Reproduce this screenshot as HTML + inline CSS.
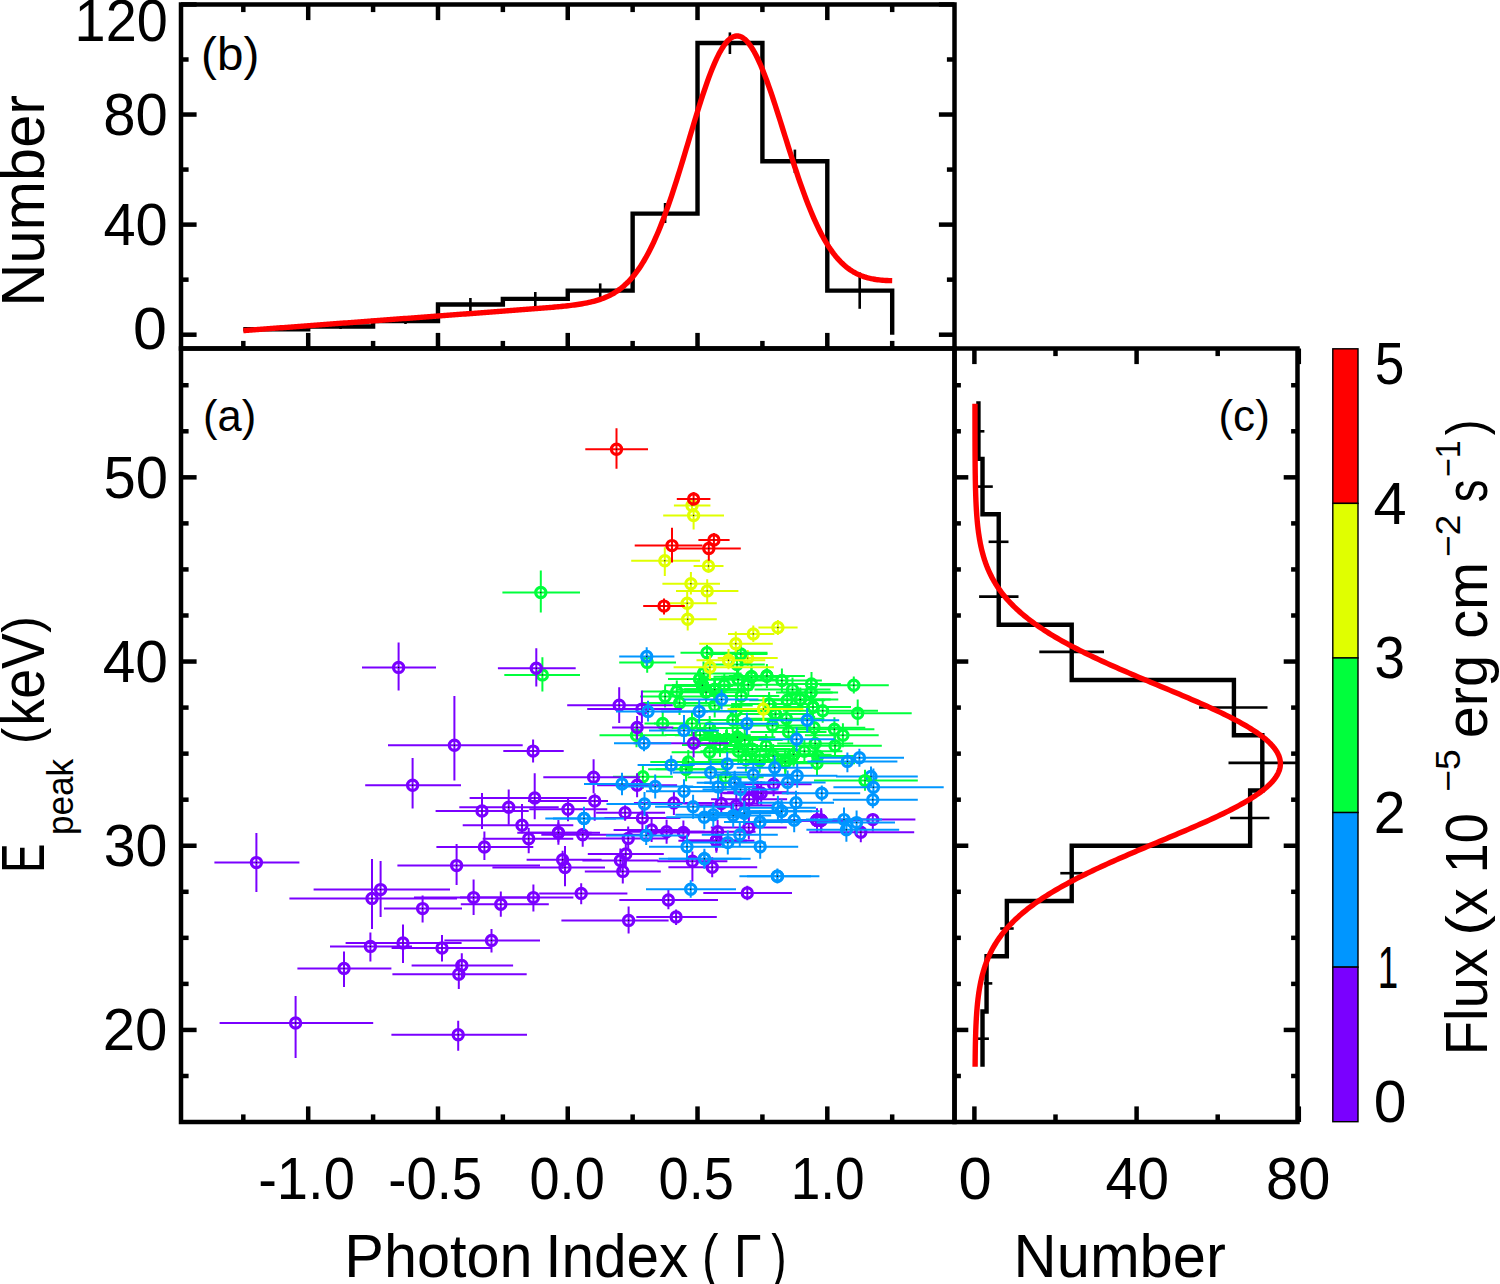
<!DOCTYPE html>
<html><head><meta charset="utf-8"><style>
html,body{margin:0;padding:0;background:#fff;overflow:hidden;}
svg{display:block;}
</style></head><body>
<svg width="1500" height="1284" viewBox="0 0 1500 1284">
<rect width="1500" height="1284" fill="#fff"/>
<path d="M525.5 832.7H591.7M558.4 822.5V842.3" stroke="#7a00ff" stroke-width="2"/>
<circle cx="558.4" cy="832.7" r="5.1" fill="none" stroke="#7a00ff" stroke-width="3.2"/>
<circle cx="558.4" cy="832.7" r="0.7" fill="#222"/>
<path d="M553 818.4H616M584 809V827.7" stroke="#0096ff" stroke-width="2"/>
<circle cx="584" cy="818.4" r="5.1" fill="none" stroke="#0096ff" stroke-width="3.2"/>
<circle cx="584" cy="818.4" r="0.7" fill="#222"/>
<path d="M655.7 769.3H716.5M686.1 759.7V778.9" stroke="#00ff3c" stroke-width="2"/>
<circle cx="686.1" cy="769.3" r="5.1" fill="none" stroke="#00ff3c" stroke-width="3.2"/>
<circle cx="686.1" cy="769.3" r="0.7" fill="#222"/>
<path d="M721.1 676.8H781.9M751.5 667.2V686.4" stroke="#00ff3c" stroke-width="2"/>
<circle cx="751.5" cy="676.8" r="5.1" fill="none" stroke="#00ff3c" stroke-width="3.2"/>
<circle cx="751.5" cy="676.8" r="0.7" fill="#222"/>
<path d="M674.3 678.9H731.7M699.7 669.3V688.5" stroke="#00ff3c" stroke-width="2"/>
<circle cx="699.7" cy="678.9" r="5.1" fill="none" stroke="#00ff3c" stroke-width="3.2"/>
<circle cx="699.7" cy="678.9" r="0.7" fill="#222"/>
<path d="M707.7 679.5H768.5M738.1 669.9V689.1" stroke="#00ff3c" stroke-width="2"/>
<circle cx="738.1" cy="679.5" r="5.1" fill="none" stroke="#00ff3c" stroke-width="3.2"/>
<circle cx="738.1" cy="679.5" r="0.7" fill="#222"/>
<path d="M672 685.3H732.8M702.4 675.7V694.9" stroke="#00ff3c" stroke-width="2"/>
<circle cx="702.4" cy="685.3" r="5.1" fill="none" stroke="#00ff3c" stroke-width="3.2"/>
<circle cx="702.4" cy="685.3" r="0.7" fill="#222"/>
<path d="M672 685.3H732.8M702.4 675.7V694.9" stroke="#00ff3c" stroke-width="2"/>
<circle cx="702.4" cy="685.3" r="5.1" fill="none" stroke="#00ff3c" stroke-width="3.2"/>
<circle cx="702.4" cy="685.3" r="0.7" fill="#222"/>
<path d="M672 685.3H732.8M702.4 675.7V694.9" stroke="#00ff3c" stroke-width="2"/>
<circle cx="702.4" cy="685.3" r="5.1" fill="none" stroke="#00ff3c" stroke-width="3.2"/>
<circle cx="702.4" cy="685.3" r="0.7" fill="#222"/>
<path d="M672 685.3H732.8M702.4 675.7V694.9" stroke="#00ff3c" stroke-width="2"/>
<circle cx="702.4" cy="685.3" r="5.1" fill="none" stroke="#00ff3c" stroke-width="3.2"/>
<circle cx="702.4" cy="685.3" r="0.7" fill="#222"/>
<path d="M684.3 689.6H745.1M714.7 680V699.2" stroke="#00ff3c" stroke-width="2"/>
<circle cx="714.7" cy="689.6" r="5.1" fill="none" stroke="#00ff3c" stroke-width="3.2"/>
<circle cx="714.7" cy="689.6" r="0.7" fill="#222"/>
<path d="M684.3 689.6H745.1M714.7 680V699.2" stroke="#00ff3c" stroke-width="2"/>
<circle cx="714.7" cy="689.6" r="5.1" fill="none" stroke="#00ff3c" stroke-width="3.2"/>
<circle cx="714.7" cy="689.6" r="0.7" fill="#222"/>
<path d="M672 685.3H732.8M702.4 675.7V694.9" stroke="#00ff3c" stroke-width="2"/>
<circle cx="702.4" cy="685.3" r="5.1" fill="none" stroke="#00ff3c" stroke-width="3.2"/>
<circle cx="702.4" cy="685.3" r="0.7" fill="#222"/>
<path d="M684.3 689.6H745.1M714.7 680V699.2" stroke="#00ff3c" stroke-width="2"/>
<circle cx="714.7" cy="689.6" r="5.1" fill="none" stroke="#00ff3c" stroke-width="3.2"/>
<circle cx="714.7" cy="689.6" r="0.7" fill="#222"/>
<path d="M672 685.3H732.8M702.4 675.7V694.9" stroke="#00ff3c" stroke-width="2"/>
<circle cx="702.4" cy="685.3" r="5.1" fill="none" stroke="#00ff3c" stroke-width="3.2"/>
<circle cx="702.4" cy="685.3" r="0.7" fill="#222"/>
<path d="M672 685.3H732.8M702.4 675.7V694.9" stroke="#00ff3c" stroke-width="2"/>
<circle cx="702.4" cy="685.3" r="5.1" fill="none" stroke="#00ff3c" stroke-width="3.2"/>
<circle cx="702.4" cy="685.3" r="0.7" fill="#222"/>
<path d="M672 685.3H732.8M702.4 675.7V694.9" stroke="#00ff3c" stroke-width="2"/>
<circle cx="702.4" cy="685.3" r="5.1" fill="none" stroke="#00ff3c" stroke-width="3.2"/>
<circle cx="702.4" cy="685.3" r="0.7" fill="#222"/>
<path d="M672 685.3H732.8M702.4 675.7V694.9" stroke="#00ff3c" stroke-width="2"/>
<circle cx="702.4" cy="685.3" r="5.1" fill="none" stroke="#00ff3c" stroke-width="3.2"/>
<circle cx="702.4" cy="685.3" r="0.7" fill="#222"/>
<path d="M706.9 737.3H767.7M737.3 727.7V746.9" stroke="#00ff3c" stroke-width="2"/>
<circle cx="737.3" cy="737.3" r="5.1" fill="none" stroke="#00ff3c" stroke-width="3.2"/>
<circle cx="737.3" cy="737.3" r="0.7" fill="#222"/>
<path d="M706.9 737.3H767.7M737.3 727.7V746.9" stroke="#00ff3c" stroke-width="2"/>
<circle cx="737.3" cy="737.3" r="5.1" fill="none" stroke="#00ff3c" stroke-width="3.2"/>
<circle cx="737.3" cy="737.3" r="0.7" fill="#222"/>
<path d="M696.3 739.5H757.1M726.7 729.9V749.1" stroke="#00ff3c" stroke-width="2"/>
<circle cx="726.7" cy="739.5" r="5.1" fill="none" stroke="#00ff3c" stroke-width="3.2"/>
<circle cx="726.7" cy="739.5" r="0.7" fill="#222"/>
<path d="M706.9 737.3H767.7M737.3 727.7V746.9" stroke="#00ff3c" stroke-width="2"/>
<circle cx="737.3" cy="737.3" r="5.1" fill="none" stroke="#00ff3c" stroke-width="3.2"/>
<circle cx="737.3" cy="737.3" r="0.7" fill="#222"/>
<path d="M696.3 739.5H757.1M726.7 729.9V749.1" stroke="#00ff3c" stroke-width="2"/>
<circle cx="726.7" cy="739.5" r="5.1" fill="none" stroke="#00ff3c" stroke-width="3.2"/>
<circle cx="726.7" cy="739.5" r="0.7" fill="#222"/>
<path d="M696.3 739.5H757.1M726.7 729.9V749.1" stroke="#00ff3c" stroke-width="2"/>
<circle cx="726.7" cy="739.5" r="5.1" fill="none" stroke="#00ff3c" stroke-width="3.2"/>
<circle cx="726.7" cy="739.5" r="0.7" fill="#222"/>
<path d="M696.3 739.5H757.1M726.7 729.9V749.1" stroke="#00ff3c" stroke-width="2"/>
<circle cx="726.7" cy="739.5" r="5.1" fill="none" stroke="#00ff3c" stroke-width="3.2"/>
<circle cx="726.7" cy="739.5" r="0.7" fill="#222"/>
<path d="M704.3 782.7H765.1M734.7 773.1V792.3" stroke="#0096ff" stroke-width="2"/>
<circle cx="734.7" cy="782.7" r="5.1" fill="none" stroke="#0096ff" stroke-width="3.2"/>
<circle cx="734.7" cy="782.7" r="0.7" fill="#222"/>
<path d="M704.3 782.7H765.1M734.7 773.1V792.3" stroke="#0096ff" stroke-width="2"/>
<circle cx="734.7" cy="782.7" r="5.1" fill="none" stroke="#0096ff" stroke-width="3.2"/>
<circle cx="734.7" cy="782.7" r="0.7" fill="#222"/>
<path d="M706.9 737.3H767.7M737.3 727.7V746.9" stroke="#00ff3c" stroke-width="2"/>
<circle cx="737.3" cy="737.3" r="5.1" fill="none" stroke="#00ff3c" stroke-width="3.2"/>
<circle cx="737.3" cy="737.3" r="0.7" fill="#222"/>
<path d="M696.3 739.5H757.1M726.7 729.9V749.1" stroke="#00ff3c" stroke-width="2"/>
<circle cx="726.7" cy="739.5" r="5.1" fill="none" stroke="#00ff3c" stroke-width="3.2"/>
<circle cx="726.7" cy="739.5" r="0.7" fill="#222"/>
<path d="M696.3 739.5H757.1M726.7 729.9V749.1" stroke="#00ff3c" stroke-width="2"/>
<circle cx="726.7" cy="739.5" r="5.1" fill="none" stroke="#00ff3c" stroke-width="3.2"/>
<circle cx="726.7" cy="739.5" r="0.7" fill="#222"/>
<path d="M696.3 739.5H757.1M726.7 729.9V749.1" stroke="#00ff3c" stroke-width="2"/>
<circle cx="726.7" cy="739.5" r="5.1" fill="none" stroke="#00ff3c" stroke-width="3.2"/>
<circle cx="726.7" cy="739.5" r="0.7" fill="#222"/>
<path d="M696.3 739.5H757.1M726.7 729.9V749.1" stroke="#00ff3c" stroke-width="2"/>
<circle cx="726.7" cy="739.5" r="5.1" fill="none" stroke="#00ff3c" stroke-width="3.2"/>
<circle cx="726.7" cy="739.5" r="0.7" fill="#222"/>
<path d="M727.2 792.8H788M757.6 783.2V802.4" stroke="#7a00ff" stroke-width="2"/>
<circle cx="757.6" cy="792.8" r="5.1" fill="none" stroke="#7a00ff" stroke-width="3.2"/>
<circle cx="757.6" cy="792.8" r="0.7" fill="#222"/>
<path d="M727.2 792.8H788M757.6 783.2V802.4" stroke="#7a00ff" stroke-width="2"/>
<circle cx="757.6" cy="792.8" r="5.1" fill="none" stroke="#7a00ff" stroke-width="3.2"/>
<circle cx="757.6" cy="792.8" r="0.7" fill="#222"/>
<path d="M727.2 792.8H788M757.6 783.2V802.4" stroke="#7a00ff" stroke-width="2"/>
<circle cx="757.6" cy="792.8" r="5.1" fill="none" stroke="#7a00ff" stroke-width="3.2"/>
<circle cx="757.6" cy="792.8" r="0.7" fill="#222"/>
<path d="M727.2 792.8H788M757.6 783.2V802.4" stroke="#7a00ff" stroke-width="2"/>
<circle cx="757.6" cy="792.8" r="5.1" fill="none" stroke="#7a00ff" stroke-width="3.2"/>
<circle cx="757.6" cy="792.8" r="0.7" fill="#222"/>
<path d="M713.9 813.1H774.7M744.3 803.5V822.7" stroke="#0096ff" stroke-width="2"/>
<circle cx="744.3" cy="813.1" r="5.1" fill="none" stroke="#0096ff" stroke-width="3.2"/>
<circle cx="744.3" cy="813.1" r="0.7" fill="#222"/>
<path d="M713.9 813.1H774.7M744.3 803.5V822.7" stroke="#0096ff" stroke-width="2"/>
<circle cx="744.3" cy="813.1" r="5.1" fill="none" stroke="#0096ff" stroke-width="3.2"/>
<circle cx="744.3" cy="813.1" r="0.7" fill="#222"/>
<path d="M727.2 792.8H788M757.6 783.2V802.4" stroke="#7a00ff" stroke-width="2"/>
<circle cx="757.6" cy="792.8" r="5.1" fill="none" stroke="#7a00ff" stroke-width="3.2"/>
<circle cx="757.6" cy="792.8" r="0.7" fill="#222"/>
<path d="M686 840.8H746.8M716.4 831.2V850.4" stroke="#7a00ff" stroke-width="2"/>
<circle cx="716.4" cy="840.8" r="5.1" fill="none" stroke="#7a00ff" stroke-width="3.2"/>
<circle cx="716.4" cy="840.8" r="0.7" fill="#222"/>
<path d="M686 840.8H746.8M716.4 831.2V850.4" stroke="#7a00ff" stroke-width="2"/>
<circle cx="716.4" cy="840.8" r="5.1" fill="none" stroke="#7a00ff" stroke-width="3.2"/>
<circle cx="716.4" cy="840.8" r="0.7" fill="#222"/>
<path d="M686 840.8H746.8M716.4 831.2V850.4" stroke="#7a00ff" stroke-width="2"/>
<circle cx="716.4" cy="840.8" r="5.1" fill="none" stroke="#7a00ff" stroke-width="3.2"/>
<circle cx="716.4" cy="840.8" r="0.7" fill="#222"/>
<path d="M667.9 858.8H741.4M704.4 850.8V866.8" stroke="#0096ff" stroke-width="2"/>
<circle cx="704.4" cy="858.8" r="5.1" fill="none" stroke="#0096ff" stroke-width="3.2"/>
<circle cx="704.4" cy="858.8" r="0.7" fill="#222"/>
<path d="M736.5 676H797.3M766.9 666.4V685.6" stroke="#00ff3c" stroke-width="2"/>
<circle cx="766.9" cy="676" r="5.1" fill="none" stroke="#00ff3c" stroke-width="3.2"/>
<circle cx="766.9" cy="676" r="0.7" fill="#222"/>
<path d="M736.5 676H797.3M766.9 666.4V685.6" stroke="#00ff3c" stroke-width="2"/>
<circle cx="766.9" cy="676" r="5.1" fill="none" stroke="#00ff3c" stroke-width="3.2"/>
<circle cx="766.9" cy="676" r="0.7" fill="#222"/>
<path d="M782.6 707H843.4M813 697.4V716.6" stroke="#00ff3c" stroke-width="2"/>
<circle cx="813" cy="707" r="5.1" fill="none" stroke="#00ff3c" stroke-width="3.2"/>
<circle cx="813" cy="707" r="0.7" fill="#222"/>
<path d="M783 692.5H832.7M811 682.9V702.1" stroke="#00ff3c" stroke-width="2"/>
<circle cx="811" cy="692.5" r="5.1" fill="none" stroke="#00ff3c" stroke-width="3.2"/>
<circle cx="811" cy="692.5" r="0.7" fill="#222"/>
<path d="M738.7 704H799.5M769.1 694.4V713.6" stroke="#00ff3c" stroke-width="2"/>
<circle cx="769.1" cy="704" r="5.1" fill="none" stroke="#00ff3c" stroke-width="3.2"/>
<circle cx="769.1" cy="704" r="0.7" fill="#222"/>
<path d="M769.9 699.5H830.7M800.3 689.9V709.1" stroke="#00ff3c" stroke-width="2"/>
<circle cx="800.3" cy="699.5" r="5.1" fill="none" stroke="#00ff3c" stroke-width="3.2"/>
<circle cx="800.3" cy="699.5" r="0.7" fill="#222"/>
<path d="M782.6 707H843.4M813 697.4V716.6" stroke="#00ff3c" stroke-width="2"/>
<circle cx="813" cy="707" r="5.1" fill="none" stroke="#00ff3c" stroke-width="3.2"/>
<circle cx="813" cy="707" r="0.7" fill="#222"/>
<path d="M745.1 714.1H805.9M775.5 704.5V723.7" stroke="#00ff3c" stroke-width="2"/>
<circle cx="775.5" cy="714.1" r="5.1" fill="none" stroke="#00ff3c" stroke-width="3.2"/>
<circle cx="775.5" cy="714.1" r="0.7" fill="#222"/>
<path d="M763.2 754.8H824M793.6 745.2V764.4" stroke="#00ff3c" stroke-width="2"/>
<circle cx="793.6" cy="754.8" r="5.1" fill="none" stroke="#00ff3c" stroke-width="3.2"/>
<circle cx="793.6" cy="754.8" r="0.7" fill="#222"/>
<path d="M754.8 762H815.6M785.2 752.4V771.6" stroke="#00ff3c" stroke-width="2"/>
<circle cx="785.2" cy="762" r="5.1" fill="none" stroke="#00ff3c" stroke-width="3.2"/>
<circle cx="785.2" cy="762" r="0.7" fill="#222"/>
<path d="M763.2 754.8H824M793.6 745.2V764.4" stroke="#00ff3c" stroke-width="2"/>
<circle cx="793.6" cy="754.8" r="5.1" fill="none" stroke="#00ff3c" stroke-width="3.2"/>
<circle cx="793.6" cy="754.8" r="0.7" fill="#222"/>
<path d="M754.8 762H815.6M785.2 752.4V771.6" stroke="#00ff3c" stroke-width="2"/>
<circle cx="785.2" cy="762" r="5.1" fill="none" stroke="#00ff3c" stroke-width="3.2"/>
<circle cx="785.2" cy="762" r="0.7" fill="#222"/>
<path d="M754.8 762H815.6M785.2 752.4V771.6" stroke="#00ff3c" stroke-width="2"/>
<circle cx="785.2" cy="762" r="5.1" fill="none" stroke="#00ff3c" stroke-width="3.2"/>
<circle cx="785.2" cy="762" r="0.7" fill="#222"/>
<path d="M763.2 754.8H824M793.6 745.2V764.4" stroke="#00ff3c" stroke-width="2"/>
<circle cx="793.6" cy="754.8" r="5.1" fill="none" stroke="#00ff3c" stroke-width="3.2"/>
<circle cx="793.6" cy="754.8" r="0.7" fill="#222"/>
<path d="M754.8 762H815.6M785.2 752.4V771.6" stroke="#00ff3c" stroke-width="2"/>
<circle cx="785.2" cy="762" r="5.1" fill="none" stroke="#00ff3c" stroke-width="3.2"/>
<circle cx="785.2" cy="762" r="0.7" fill="#222"/>
<path d="M763.2 754.8H824M793.6 745.2V764.4" stroke="#00ff3c" stroke-width="2"/>
<circle cx="793.6" cy="754.8" r="5.1" fill="none" stroke="#00ff3c" stroke-width="3.2"/>
<circle cx="793.6" cy="754.8" r="0.7" fill="#222"/>
<path d="M785 820.2H849M817 810.6V829.8" stroke="#7a00ff" stroke-width="2"/>
<circle cx="817" cy="820.2" r="5.1" fill="none" stroke="#7a00ff" stroke-width="3.2"/>
<circle cx="817" cy="820.2" r="0.7" fill="#222"/>
<path d="M785 820.2H849M817 810.6V829.8" stroke="#7a00ff" stroke-width="2"/>
<circle cx="817" cy="820.2" r="5.1" fill="none" stroke="#7a00ff" stroke-width="3.2"/>
<circle cx="817" cy="820.2" r="0.7" fill="#222"/>
<path d="M785 820.2H849M817 810.6V829.8" stroke="#7a00ff" stroke-width="2"/>
<circle cx="817" cy="820.2" r="5.1" fill="none" stroke="#7a00ff" stroke-width="3.2"/>
<circle cx="817" cy="820.2" r="0.7" fill="#222"/>
<path d="M789.2 820.2H853.2M821.2 810.6V829.8" stroke="#7a00ff" stroke-width="2"/>
<circle cx="821.2" cy="820.2" r="5.1" fill="none" stroke="#7a00ff" stroke-width="3.2"/>
<circle cx="821.2" cy="820.2" r="0.7" fill="#222"/>
<path d="M785 820.2H849M817 810.6V829.8" stroke="#7a00ff" stroke-width="2"/>
<circle cx="817" cy="820.2" r="5.1" fill="none" stroke="#7a00ff" stroke-width="3.2"/>
<circle cx="817" cy="820.2" r="0.7" fill="#222"/>
<path d="M751.2 811.2H812M781.6 801.6V820.8" stroke="#0096ff" stroke-width="2"/>
<circle cx="781.6" cy="811.2" r="5.1" fill="none" stroke="#0096ff" stroke-width="3.2"/>
<circle cx="781.6" cy="811.2" r="0.7" fill="#222"/>
<path d="M789.2 820.2H853.2M821.2 810.6V829.8" stroke="#7a00ff" stroke-width="2"/>
<circle cx="821.2" cy="820.2" r="5.1" fill="none" stroke="#7a00ff" stroke-width="3.2"/>
<circle cx="821.2" cy="820.2" r="0.7" fill="#222"/>
<path d="M747 876.2H811M777.4 870.1V882.1" stroke="#0096ff" stroke-width="2"/>
<circle cx="777.4" cy="876.2" r="5.1" fill="none" stroke="#0096ff" stroke-width="3.2"/>
<circle cx="777.4" cy="876.2" r="0.7" fill="#222"/>
<path d="M717.7 658.1H777.7M747.7 650.1V666.1" stroke="#e0ff00" stroke-width="2"/>
<circle cx="747.7" cy="658.1" r="5.1" fill="none" stroke="#e0ff00" stroke-width="3.2"/>
<circle cx="747.7" cy="658.1" r="0.7" fill="#222"/>
<path d="M836 776.4H917.8M871 766.4V786.4" stroke="#0096ff" stroke-width="2"/>
<circle cx="871" cy="776.4" r="5.1" fill="none" stroke="#0096ff" stroke-width="3.2"/>
<circle cx="871" cy="776.4" r="0.7" fill="#222"/>
<path d="M502.4 592.5H580M540.8 570.4V612.5" stroke="#00ff3c" stroke-width="2"/>
<circle cx="540.8" cy="592.5" r="5.1" fill="none" stroke="#00ff3c" stroke-width="3.2"/>
<circle cx="540.8" cy="592.5" r="0.7" fill="#222"/>
<path d="M504.3 674.9H580M542.4 657.3V691.5" stroke="#00ff3c" stroke-width="2"/>
<circle cx="542.4" cy="674.9" r="5.1" fill="none" stroke="#00ff3c" stroke-width="3.2"/>
<circle cx="542.4" cy="674.9" r="0.7" fill="#222"/>
<path d="M619.2 662.4H676M647.2 654.4V672.8" stroke="#00ff3c" stroke-width="2"/>
<circle cx="647.2" cy="662.4" r="5.1" fill="none" stroke="#00ff3c" stroke-width="3.2"/>
<circle cx="647.2" cy="662.4" r="0.7" fill="#222"/>
<path d="M680.5 652.8H767.5M707 644.8V660.8" stroke="#00ff3c" stroke-width="2"/>
<circle cx="707" cy="652.8" r="5.1" fill="none" stroke="#00ff3c" stroke-width="3.2"/>
<circle cx="707" cy="652.8" r="0.7" fill="#222"/>
<path d="M705.8 653.9H767.5M740.8 641.9V665.9" stroke="#00ff3c" stroke-width="2"/>
<circle cx="740.8" cy="653.9" r="5.1" fill="none" stroke="#00ff3c" stroke-width="3.2"/>
<circle cx="740.8" cy="653.9" r="0.7" fill="#222"/>
<path d="M703 664.5H764.8M737 656.5V673.5" stroke="#00ff3c" stroke-width="2"/>
<circle cx="737" cy="664.5" r="5.1" fill="none" stroke="#00ff3c" stroke-width="3.2"/>
<circle cx="737" cy="664.5" r="0.7" fill="#222"/>
<path d="M668 678.9H739.7M699.7 666.9V690.9" stroke="#00ff3c" stroke-width="2"/>
<circle cx="699.7" cy="678.9" r="5.1" fill="none" stroke="#00ff3c" stroke-width="3.2"/>
<circle cx="699.7" cy="678.9" r="0.7" fill="#222"/>
<path d="M665.5 673.6H741.5M703.5 661.6V685.6" stroke="#00ff3c" stroke-width="2"/>
<circle cx="703.5" cy="673.6" r="5.1" fill="none" stroke="#00ff3c" stroke-width="3.2"/>
<circle cx="703.5" cy="673.6" r="0.7" fill="#222"/>
<path d="M713.5 676.8H789.5M751.5 664.8V688.8" stroke="#00ff3c" stroke-width="2"/>
<circle cx="751.5" cy="676.8" r="5.1" fill="none" stroke="#00ff3c" stroke-width="3.2"/>
<circle cx="751.5" cy="676.8" r="0.7" fill="#222"/>
<path d="M728.9 676H804.9M766.9 664V688" stroke="#00ff3c" stroke-width="2"/>
<circle cx="766.9" cy="676" r="5.1" fill="none" stroke="#00ff3c" stroke-width="3.2"/>
<circle cx="766.9" cy="676" r="0.7" fill="#222"/>
<path d="M741.9 680.5H821.9M781.9 668.5V692.5" stroke="#00ff3c" stroke-width="2"/>
<circle cx="781.9" cy="680.5" r="5.1" fill="none" stroke="#00ff3c" stroke-width="3.2"/>
<circle cx="781.9" cy="680.5" r="0.7" fill="#222"/>
<path d="M700.1 679.5H776.1M738.1 667.5V691.5" stroke="#00ff3c" stroke-width="2"/>
<circle cx="738.1" cy="679.5" r="5.1" fill="none" stroke="#00ff3c" stroke-width="3.2"/>
<circle cx="738.1" cy="679.5" r="0.7" fill="#222"/>
<path d="M686.3 685.3H762.3M724.3 673.3V697.3" stroke="#00ff3c" stroke-width="2"/>
<circle cx="724.3" cy="685.3" r="5.1" fill="none" stroke="#00ff3c" stroke-width="3.2"/>
<circle cx="724.3" cy="685.3" r="0.7" fill="#222"/>
<path d="M710.3 684.8H786.3M748.3 672.8V696.8" stroke="#00ff3c" stroke-width="2"/>
<circle cx="748.3" cy="684.8" r="5.1" fill="none" stroke="#00ff3c" stroke-width="3.2"/>
<circle cx="748.3" cy="684.8" r="0.7" fill="#222"/>
<path d="M664.4 685.3H740.4M702.4 673.3V697.3" stroke="#00ff3c" stroke-width="2"/>
<circle cx="702.4" cy="685.3" r="5.1" fill="none" stroke="#00ff3c" stroke-width="3.2"/>
<circle cx="702.4" cy="685.3" r="0.7" fill="#222"/>
<path d="M641.8 691.6H716.8M676.8 680.6V702.6" stroke="#00ff3c" stroke-width="2"/>
<circle cx="676.8" cy="691.6" r="5.1" fill="none" stroke="#00ff3c" stroke-width="3.2"/>
<circle cx="676.8" cy="691.6" r="0.7" fill="#222"/>
<path d="M640.1 696.5H705.1M665.1 685.5V707.5" stroke="#00ff3c" stroke-width="2"/>
<circle cx="665.1" cy="696.5" r="5.1" fill="none" stroke="#00ff3c" stroke-width="3.2"/>
<circle cx="665.1" cy="696.5" r="0.7" fill="#222"/>
<path d="M641.5 702.9H714.5M679.5 690.9V714.9" stroke="#00ff3c" stroke-width="2"/>
<circle cx="679.5" cy="702.9" r="5.1" fill="none" stroke="#00ff3c" stroke-width="3.2"/>
<circle cx="679.5" cy="702.9" r="0.7" fill="#222"/>
<path d="M668.1 692.3H744.1M706.1 680.3V704.3" stroke="#00ff3c" stroke-width="2"/>
<circle cx="706.1" cy="692.3" r="5.1" fill="none" stroke="#00ff3c" stroke-width="3.2"/>
<circle cx="706.1" cy="692.3" r="0.7" fill="#222"/>
<path d="M676.7 689.6H752.7M714.7 677.6V701.6" stroke="#00ff3c" stroke-width="2"/>
<circle cx="714.7" cy="689.6" r="5.1" fill="none" stroke="#00ff3c" stroke-width="3.2"/>
<circle cx="714.7" cy="689.6" r="0.7" fill="#222"/>
<path d="M703.3 696H779.3M741.3 684V708" stroke="#00ff3c" stroke-width="2"/>
<circle cx="741.3" cy="696" r="5.1" fill="none" stroke="#00ff3c" stroke-width="3.2"/>
<circle cx="741.3" cy="696" r="0.7" fill="#222"/>
<path d="M676.7 705.6H752.7M714.7 693.6V717.6" stroke="#00ff3c" stroke-width="2"/>
<circle cx="714.7" cy="705.6" r="5.1" fill="none" stroke="#00ff3c" stroke-width="3.2"/>
<circle cx="714.7" cy="705.6" r="0.7" fill="#222"/>
<path d="M754.5 689.6H830.5M792.5 677.6V701.6" stroke="#00ff3c" stroke-width="2"/>
<circle cx="792.5" cy="689.6" r="5.1" fill="none" stroke="#00ff3c" stroke-width="3.2"/>
<circle cx="792.5" cy="689.6" r="0.7" fill="#222"/>
<path d="M731.1 704H807.1M769.1 692V716" stroke="#00ff3c" stroke-width="2"/>
<circle cx="769.1" cy="704" r="5.1" fill="none" stroke="#00ff3c" stroke-width="3.2"/>
<circle cx="769.1" cy="704" r="0.7" fill="#222"/>
<path d="M749.2 700.3H825.2M787.2 688.3V712.3" stroke="#00ff3c" stroke-width="2"/>
<circle cx="787.2" cy="700.3" r="5.1" fill="none" stroke="#00ff3c" stroke-width="3.2"/>
<circle cx="787.2" cy="700.3" r="0.7" fill="#222"/>
<path d="M698 711H774M736 699V723" stroke="#00ff3c" stroke-width="2"/>
<circle cx="736" cy="711" r="5.1" fill="none" stroke="#00ff3c" stroke-width="3.2"/>
<circle cx="736" cy="711" r="0.7" fill="#222"/>
<path d="M737.5 714.1H813.5M775.5 702.1V726.1" stroke="#00ff3c" stroke-width="2"/>
<circle cx="775.5" cy="714.1" r="5.1" fill="none" stroke="#00ff3c" stroke-width="3.2"/>
<circle cx="775.5" cy="714.1" r="0.7" fill="#222"/>
<path d="M819.5 685.3H888.8M853.8 676.5V693.6" stroke="#00ff3c" stroke-width="2"/>
<circle cx="853.8" cy="685.3" r="5.1" fill="none" stroke="#00ff3c" stroke-width="3.2"/>
<circle cx="853.8" cy="685.3" r="0.7" fill="#222"/>
<path d="M827 713.3H911.7M857.7 699.5V725.6" stroke="#00ff3c" stroke-width="2"/>
<circle cx="857.7" cy="713.3" r="5.1" fill="none" stroke="#00ff3c" stroke-width="3.2"/>
<circle cx="857.7" cy="713.3" r="0.7" fill="#222"/>
<path d="M776.5 684H840.8M811.5 672V696" stroke="#00ff3c" stroke-width="2"/>
<circle cx="811.5" cy="684" r="5.1" fill="none" stroke="#00ff3c" stroke-width="3.2"/>
<circle cx="811.5" cy="684" r="0.7" fill="#222"/>
<path d="M776 692.5H838.1M811 680.5V704.5" stroke="#00ff3c" stroke-width="2"/>
<circle cx="811" cy="692.5" r="5.1" fill="none" stroke="#00ff3c" stroke-width="3.2"/>
<circle cx="811" cy="692.5" r="0.7" fill="#222"/>
<path d="M762.3 699.5H838.3M800.3 687.5V711.5" stroke="#00ff3c" stroke-width="2"/>
<circle cx="800.3" cy="699.5" r="5.1" fill="none" stroke="#00ff3c" stroke-width="3.2"/>
<circle cx="800.3" cy="699.5" r="0.7" fill="#222"/>
<path d="M775 707H851M813 695V719" stroke="#00ff3c" stroke-width="2"/>
<circle cx="813" cy="707" r="5.1" fill="none" stroke="#00ff3c" stroke-width="3.2"/>
<circle cx="813" cy="707" r="0.7" fill="#222"/>
<path d="M782.7 710.7H878M822.7 698.7V722.7" stroke="#00ff3c" stroke-width="2"/>
<circle cx="822.7" cy="710.7" r="5.1" fill="none" stroke="#00ff3c" stroke-width="3.2"/>
<circle cx="822.7" cy="710.7" r="0.7" fill="#222"/>
<path d="M748.4 718.7H824.4M786.4 706.7V730.7" stroke="#00ff3c" stroke-width="2"/>
<circle cx="786.4" cy="718.7" r="5.1" fill="none" stroke="#00ff3c" stroke-width="3.2"/>
<circle cx="786.4" cy="718.7" r="0.7" fill="#222"/>
<path d="M750.5 732H826.5M788.5 720V744" stroke="#00ff3c" stroke-width="2"/>
<circle cx="788.5" cy="732" r="5.1" fill="none" stroke="#00ff3c" stroke-width="3.2"/>
<circle cx="788.5" cy="732" r="0.7" fill="#222"/>
<path d="M776.1 727.7H865.3M814.1 715.7V739.7" stroke="#00ff3c" stroke-width="2"/>
<circle cx="814.1" cy="727.7" r="5.1" fill="none" stroke="#00ff3c" stroke-width="3.2"/>
<circle cx="814.1" cy="727.7" r="0.7" fill="#222"/>
<path d="M796.4 729.3H874.4M834.4 717.3V741.3" stroke="#00ff3c" stroke-width="2"/>
<circle cx="834.4" cy="729.3" r="5.1" fill="none" stroke="#00ff3c" stroke-width="3.2"/>
<circle cx="834.4" cy="729.3" r="0.7" fill="#222"/>
<path d="M804.9 735.2H878.7M842.9 723.2V747.2" stroke="#00ff3c" stroke-width="2"/>
<circle cx="842.9" cy="735.2" r="5.1" fill="none" stroke="#00ff3c" stroke-width="3.2"/>
<circle cx="842.9" cy="735.2" r="0.7" fill="#222"/>
<path d="M599.5 735.2H666.5M636.5 723.2V747.2" stroke="#00ff3c" stroke-width="2"/>
<circle cx="636.5" cy="735.2" r="5.1" fill="none" stroke="#00ff3c" stroke-width="3.2"/>
<circle cx="636.5" cy="735.2" r="0.7" fill="#222"/>
<path d="M644.5 723.5H684M662.7 711.5V735.5" stroke="#00ff3c" stroke-width="2"/>
<circle cx="662.7" cy="723.5" r="5.1" fill="none" stroke="#00ff3c" stroke-width="3.2"/>
<circle cx="662.7" cy="723.5" r="0.7" fill="#222"/>
<path d="M654 723.5H730M692 711.5V735.5" stroke="#00ff3c" stroke-width="2"/>
<circle cx="692" cy="723.5" r="5.1" fill="none" stroke="#00ff3c" stroke-width="3.2"/>
<circle cx="692" cy="723.5" r="0.7" fill="#222"/>
<path d="M674.8 735.2H750.8M712.8 723.2V747.2" stroke="#00ff3c" stroke-width="2"/>
<circle cx="712.8" cy="735.2" r="5.1" fill="none" stroke="#00ff3c" stroke-width="3.2"/>
<circle cx="712.8" cy="735.2" r="0.7" fill="#222"/>
<path d="M688.7 739.5H764.7M726.7 727.5V751.5" stroke="#00ff3c" stroke-width="2"/>
<circle cx="726.7" cy="739.5" r="5.1" fill="none" stroke="#00ff3c" stroke-width="3.2"/>
<circle cx="726.7" cy="739.5" r="0.7" fill="#222"/>
<path d="M699.3 737.3H775.3M737.3 725.3V749.3" stroke="#00ff3c" stroke-width="2"/>
<circle cx="737.3" cy="737.3" r="5.1" fill="none" stroke="#00ff3c" stroke-width="3.2"/>
<circle cx="737.3" cy="737.3" r="0.7" fill="#222"/>
<path d="M734.5 725.6H810.5M772.5 713.6V737.6" stroke="#00ff3c" stroke-width="2"/>
<circle cx="772.5" cy="725.6" r="5.1" fill="none" stroke="#00ff3c" stroke-width="3.2"/>
<circle cx="772.5" cy="725.6" r="0.7" fill="#222"/>
<path d="M728.1 745.9H804.1M766.1 733.9V757.9" stroke="#00ff3c" stroke-width="2"/>
<circle cx="766.1" cy="745.9" r="5.1" fill="none" stroke="#00ff3c" stroke-width="3.2"/>
<circle cx="766.1" cy="745.9" r="0.7" fill="#222"/>
<path d="M671.6 752.3H747.6M709.6 740.3V764.3" stroke="#00ff3c" stroke-width="2"/>
<circle cx="709.6" cy="752.3" r="5.1" fill="none" stroke="#00ff3c" stroke-width="3.2"/>
<circle cx="709.6" cy="752.3" r="0.7" fill="#222"/>
<path d="M700.4 751.2H776.4M738.4 739.2V763.2" stroke="#00ff3c" stroke-width="2"/>
<circle cx="738.4" cy="751.2" r="5.1" fill="none" stroke="#00ff3c" stroke-width="3.2"/>
<circle cx="738.4" cy="751.2" r="0.7" fill="#222"/>
<path d="M714.3 749.1H790.3M752.3 737.1V761.1" stroke="#00ff3c" stroke-width="2"/>
<circle cx="752.3" cy="749.1" r="5.1" fill="none" stroke="#00ff3c" stroke-width="3.2"/>
<circle cx="752.3" cy="749.1" r="0.7" fill="#222"/>
<path d="M650.3 761.9H726.3M688.3 749.9V773.9" stroke="#00ff3c" stroke-width="2"/>
<circle cx="688.3" cy="761.9" r="5.1" fill="none" stroke="#00ff3c" stroke-width="3.2"/>
<circle cx="688.3" cy="761.9" r="0.7" fill="#222"/>
<path d="M648.1 769.3H724.1M686.1 757.3V781.3" stroke="#00ff3c" stroke-width="2"/>
<circle cx="686.1" cy="769.3" r="5.1" fill="none" stroke="#00ff3c" stroke-width="3.2"/>
<circle cx="686.1" cy="769.3" r="0.7" fill="#222"/>
<path d="M707.9 759.7H783.9M745.9 747.7V771.7" stroke="#00ff3c" stroke-width="2"/>
<circle cx="745.9" cy="759.7" r="5.1" fill="none" stroke="#00ff3c" stroke-width="3.2"/>
<circle cx="745.9" cy="759.7" r="0.7" fill="#222"/>
<path d="M721.7 760.8H797.7M759.7 748.8V772.8" stroke="#00ff3c" stroke-width="2"/>
<circle cx="759.7" cy="760.8" r="5.1" fill="none" stroke="#00ff3c" stroke-width="3.2"/>
<circle cx="759.7" cy="760.8" r="0.7" fill="#222"/>
<path d="M612.9 776.8H672.9M642.9 764.8V788.8" stroke="#00ff3c" stroke-width="2"/>
<circle cx="642.9" cy="776.8" r="5.1" fill="none" stroke="#00ff3c" stroke-width="3.2"/>
<circle cx="642.9" cy="776.8" r="0.7" fill="#222"/>
<path d="M687.6 777.3H763.6M725.6 765.3V789.3" stroke="#00ff3c" stroke-width="2"/>
<circle cx="725.6" cy="777.3" r="5.1" fill="none" stroke="#00ff3c" stroke-width="3.2"/>
<circle cx="725.6" cy="777.3" r="0.7" fill="#222"/>
<path d="M777.2 743.4H853.2M815.2 731.4V755.4" stroke="#00ff3c" stroke-width="2"/>
<circle cx="815.2" cy="743.4" r="5.1" fill="none" stroke="#00ff3c" stroke-width="3.2"/>
<circle cx="815.2" cy="743.4" r="0.7" fill="#222"/>
<path d="M766.4 751.2H842.4M804.4 739.2V763.2" stroke="#00ff3c" stroke-width="2"/>
<circle cx="804.4" cy="751.2" r="5.1" fill="none" stroke="#00ff3c" stroke-width="3.2"/>
<circle cx="804.4" cy="751.2" r="0.7" fill="#222"/>
<path d="M755.6 754.8H831.6M793.6 742.8V766.8" stroke="#00ff3c" stroke-width="2"/>
<circle cx="793.6" cy="754.8" r="5.1" fill="none" stroke="#00ff3c" stroke-width="3.2"/>
<circle cx="793.6" cy="754.8" r="0.7" fill="#222"/>
<path d="M797 745.8H881.8M835 733.8V757.8" stroke="#00ff3c" stroke-width="2"/>
<circle cx="835" cy="745.8" r="5.1" fill="none" stroke="#00ff3c" stroke-width="3.2"/>
<circle cx="835" cy="745.8" r="0.7" fill="#222"/>
<path d="M735.2 756H811.2M773.2 744V768" stroke="#00ff3c" stroke-width="2"/>
<circle cx="773.2" cy="756" r="5.1" fill="none" stroke="#00ff3c" stroke-width="3.2"/>
<circle cx="773.2" cy="756" r="0.7" fill="#222"/>
<path d="M747.2 762H823.2M785.2 750V774" stroke="#00ff3c" stroke-width="2"/>
<circle cx="785.2" cy="762" r="5.1" fill="none" stroke="#00ff3c" stroke-width="3.2"/>
<circle cx="785.2" cy="762" r="0.7" fill="#222"/>
<path d="M779.6 756H855.6M817.6 744V768" stroke="#00ff3c" stroke-width="2"/>
<circle cx="817.6" cy="756" r="5.1" fill="none" stroke="#00ff3c" stroke-width="3.2"/>
<circle cx="817.6" cy="756" r="0.7" fill="#222"/>
<path d="M779 763.2H855M817 751.2V775.2" stroke="#00ff3c" stroke-width="2"/>
<circle cx="817" cy="763.2" r="5.1" fill="none" stroke="#00ff3c" stroke-width="3.2"/>
<circle cx="817" cy="763.2" r="0.7" fill="#222"/>
<path d="M814 780.6H917.8M865 769.8V790.8" stroke="#00ff3c" stroke-width="2"/>
<circle cx="865" cy="780.6" r="5.1" fill="none" stroke="#00ff3c" stroke-width="3.2"/>
<circle cx="865" cy="780.6" r="0.7" fill="#222"/>
<path d="M671.7 728H747.7M709.7 716V740" stroke="#00ff3c" stroke-width="2"/>
<circle cx="709.7" cy="728" r="5.1" fill="none" stroke="#00ff3c" stroke-width="3.2"/>
<circle cx="709.7" cy="728" r="0.7" fill="#222"/>
<path d="M706.7 740H782.7M744.7 728V752" stroke="#00ff3c" stroke-width="2"/>
<circle cx="744.7" cy="740" r="5.1" fill="none" stroke="#00ff3c" stroke-width="3.2"/>
<circle cx="744.7" cy="740" r="0.7" fill="#222"/>
<path d="M694.7 720H770.7M732.7 708V732" stroke="#00ff3c" stroke-width="2"/>
<circle cx="732.7" cy="720" r="5.1" fill="none" stroke="#00ff3c" stroke-width="3.2"/>
<circle cx="732.7" cy="720" r="0.7" fill="#222"/>
<path d="M682 745H758M720 733V757" stroke="#00ff3c" stroke-width="2"/>
<circle cx="720" cy="745" r="5.1" fill="none" stroke="#00ff3c" stroke-width="3.2"/>
<circle cx="720" cy="745" r="0.7" fill="#222"/>
<path d="M665 735H740M700 723V747" stroke="#00ff3c" stroke-width="2"/>
<circle cx="700" cy="735" r="5.1" fill="none" stroke="#00ff3c" stroke-width="3.2"/>
<circle cx="700" cy="735" r="0.7" fill="#222"/>
<path d="M497.9 668.2H575.7M536.3 648.3V686.4" stroke="#7a00ff" stroke-width="2"/>
<circle cx="536.3" cy="668.2" r="5.1" fill="none" stroke="#7a00ff" stroke-width="3.2"/>
<circle cx="536.3" cy="668.2" r="0.7" fill="#222"/>
<path d="M567.2 705.3H672.8M619.2 687.2V723" stroke="#7a00ff" stroke-width="2"/>
<circle cx="619.2" cy="705.3" r="5.1" fill="none" stroke="#7a00ff" stroke-width="3.2"/>
<circle cx="619.2" cy="705.3" r="0.7" fill="#222"/>
<path d="M362 667.4H436M398.6 642.4V690.4" stroke="#7a00ff" stroke-width="2"/>
<circle cx="398.6" cy="667.4" r="5.1" fill="none" stroke="#7a00ff" stroke-width="3.2"/>
<circle cx="398.6" cy="667.4" r="0.7" fill="#222"/>
<path d="M388 745.2H522.7M454.4 696V780.4" stroke="#7a00ff" stroke-width="2"/>
<circle cx="454.4" cy="745.2" r="5.1" fill="none" stroke="#7a00ff" stroke-width="3.2"/>
<circle cx="454.4" cy="745.2" r="0.7" fill="#222"/>
<path d="M365.2 785.2H461M412.6 758V808.6" stroke="#7a00ff" stroke-width="2"/>
<circle cx="412.6" cy="785.2" r="5.1" fill="none" stroke="#7a00ff" stroke-width="3.2"/>
<circle cx="412.6" cy="785.2" r="0.7" fill="#222"/>
<path d="M435.6 811H528.7M482 793V829" stroke="#7a00ff" stroke-width="2"/>
<circle cx="482" cy="811" r="5.1" fill="none" stroke="#7a00ff" stroke-width="3.2"/>
<circle cx="482" cy="811" r="0.7" fill="#222"/>
<path d="M436.4 847H533.3M484.4 831.6V860" stroke="#7a00ff" stroke-width="2"/>
<circle cx="484.4" cy="847" r="5.1" fill="none" stroke="#7a00ff" stroke-width="3.2"/>
<circle cx="484.4" cy="847" r="0.7" fill="#222"/>
<path d="M214.4 862.6H299.4M256.4 833V892" stroke="#7a00ff" stroke-width="2"/>
<circle cx="256.4" cy="862.6" r="5.1" fill="none" stroke="#7a00ff" stroke-width="3.2"/>
<circle cx="256.4" cy="862.6" r="0.7" fill="#222"/>
<path d="M313.6 889.6H450M380.6 861V917" stroke="#7a00ff" stroke-width="2"/>
<circle cx="380.6" cy="889.6" r="5.1" fill="none" stroke="#7a00ff" stroke-width="3.2"/>
<circle cx="380.6" cy="889.6" r="0.7" fill="#222"/>
<path d="M289.4 898.4H457M372 859V929" stroke="#7a00ff" stroke-width="2"/>
<circle cx="372" cy="898.4" r="5.1" fill="none" stroke="#7a00ff" stroke-width="3.2"/>
<circle cx="372" cy="898.4" r="0.7" fill="#222"/>
<path d="M384 908.6H462M422.6 895.6V922.4" stroke="#7a00ff" stroke-width="2"/>
<circle cx="422.6" cy="908.6" r="5.1" fill="none" stroke="#7a00ff" stroke-width="3.2"/>
<circle cx="422.6" cy="908.6" r="0.7" fill="#222"/>
<path d="M397.4 865.6H540M456.6 844V885" stroke="#7a00ff" stroke-width="2"/>
<circle cx="456.6" cy="865.6" r="5.1" fill="none" stroke="#7a00ff" stroke-width="3.2"/>
<circle cx="456.6" cy="865.6" r="0.7" fill="#222"/>
<path d="M330 946.4H412M370.4 932.4V961.6" stroke="#7a00ff" stroke-width="2"/>
<circle cx="370.4" cy="946.4" r="5.1" fill="none" stroke="#7a00ff" stroke-width="3.2"/>
<circle cx="370.4" cy="946.4" r="0.7" fill="#222"/>
<path d="M345.6 943H461.6M403 924.4V963" stroke="#7a00ff" stroke-width="2"/>
<circle cx="403" cy="943" r="5.1" fill="none" stroke="#7a00ff" stroke-width="3.2"/>
<circle cx="403" cy="943" r="0.7" fill="#222"/>
<path d="M391.6 948H491M442 935V961.6" stroke="#7a00ff" stroke-width="2"/>
<circle cx="442" cy="948" r="5.1" fill="none" stroke="#7a00ff" stroke-width="3.2"/>
<circle cx="442" cy="948" r="0.7" fill="#222"/>
<path d="M297.4 968.4H391.4M344 951.6V987" stroke="#7a00ff" stroke-width="2"/>
<circle cx="344" cy="968.4" r="5.1" fill="none" stroke="#7a00ff" stroke-width="3.2"/>
<circle cx="344" cy="968.4" r="0.7" fill="#222"/>
<path d="M219.6 1023H373.2M295.6 996V1058" stroke="#7a00ff" stroke-width="2"/>
<circle cx="295.6" cy="1023" r="5.1" fill="none" stroke="#7a00ff" stroke-width="3.2"/>
<circle cx="295.6" cy="1023" r="0.7" fill="#222"/>
<path d="M503.3 751.1H563.7M533.1 739.6V762.4" stroke="#7a00ff" stroke-width="2"/>
<circle cx="533.1" cy="751.1" r="5.1" fill="none" stroke="#7a00ff" stroke-width="3.2"/>
<circle cx="533.1" cy="751.1" r="0.7" fill="#222"/>
<path d="M543.3 777.3H640M593.6 759.3V793.3" stroke="#7a00ff" stroke-width="2"/>
<circle cx="593.6" cy="777.3" r="5.1" fill="none" stroke="#7a00ff" stroke-width="3.2"/>
<circle cx="593.6" cy="777.3" r="0.7" fill="#222"/>
<path d="M469.6 798H586.7M534.7 773.3V819.3" stroke="#7a00ff" stroke-width="2"/>
<circle cx="534.7" cy="798" r="5.1" fill="none" stroke="#7a00ff" stroke-width="3.2"/>
<circle cx="534.7" cy="798" r="0.7" fill="#222"/>
<path d="M528 801.1H608M594.7 793.3V820.7" stroke="#7a00ff" stroke-width="2"/>
<circle cx="594.7" cy="801.1" r="5.1" fill="none" stroke="#7a00ff" stroke-width="3.2"/>
<circle cx="594.7" cy="801.1" r="0.7" fill="#222"/>
<path d="M459.3 807.3H558.7M508.7 789.6V824.7" stroke="#7a00ff" stroke-width="2"/>
<circle cx="508.7" cy="807.3" r="5.1" fill="none" stroke="#7a00ff" stroke-width="3.2"/>
<circle cx="508.7" cy="807.3" r="0.7" fill="#222"/>
<path d="M529.3 809.3H607.3M568 798V821.3" stroke="#7a00ff" stroke-width="2"/>
<circle cx="568" cy="809.3" r="5.1" fill="none" stroke="#7a00ff" stroke-width="3.2"/>
<circle cx="568" cy="809.3" r="0.7" fill="#222"/>
<path d="M462.7 825.3H573.3M522 804V833.3" stroke="#7a00ff" stroke-width="2"/>
<circle cx="522" cy="825.3" r="5.1" fill="none" stroke="#7a00ff" stroke-width="3.2"/>
<circle cx="522" cy="825.3" r="0.7" fill="#222"/>
<path d="M482.7 838.7H573.3M528.7 828V853.3" stroke="#7a00ff" stroke-width="2"/>
<circle cx="528.7" cy="838.7" r="5.1" fill="none" stroke="#7a00ff" stroke-width="3.2"/>
<circle cx="528.7" cy="838.7" r="0.7" fill="#222"/>
<path d="M517.3 832.7H600M558.4 820V844.7" stroke="#7a00ff" stroke-width="2"/>
<circle cx="558.4" cy="832.7" r="5.1" fill="none" stroke="#7a00ff" stroke-width="3.2"/>
<circle cx="558.4" cy="832.7" r="0.7" fill="#222"/>
<path d="M541.3 834.7H640M582.7 828V846.7" stroke="#7a00ff" stroke-width="2"/>
<circle cx="582.7" cy="834.7" r="5.1" fill="none" stroke="#7a00ff" stroke-width="3.2"/>
<circle cx="582.7" cy="834.7" r="0.7" fill="#222"/>
<path d="M587.2 709.1H681.9M641.9 690.4V723.1" stroke="#7a00ff" stroke-width="2"/>
<circle cx="641.9" cy="709.1" r="5.1" fill="none" stroke="#7a00ff" stroke-width="3.2"/>
<circle cx="641.9" cy="709.1" r="0.7" fill="#222"/>
<path d="M612.1 727.5H673.3M637.1 716V739.5" stroke="#7a00ff" stroke-width="2"/>
<circle cx="637.1" cy="727.5" r="5.1" fill="none" stroke="#7a00ff" stroke-width="3.2"/>
<circle cx="637.1" cy="727.5" r="0.7" fill="#222"/>
<path d="M633.6 743.2H728.6M693.6 732V757.6" stroke="#7a00ff" stroke-width="2"/>
<circle cx="693.6" cy="743.2" r="5.1" fill="none" stroke="#7a00ff" stroke-width="3.2"/>
<circle cx="693.6" cy="743.2" r="0.7" fill="#222"/>
<path d="M597.1 785.3H677.1M637.1 773.3V797.3" stroke="#7a00ff" stroke-width="2"/>
<circle cx="637.1" cy="785.3" r="5.1" fill="none" stroke="#7a00ff" stroke-width="3.2"/>
<circle cx="637.1" cy="785.3" r="0.7" fill="#222"/>
<path d="M719.6 792.8H795.6M757.6 780.8V804.8" stroke="#7a00ff" stroke-width="2"/>
<circle cx="757.6" cy="792.8" r="5.1" fill="none" stroke="#7a00ff" stroke-width="3.2"/>
<circle cx="757.6" cy="792.8" r="0.7" fill="#222"/>
<path d="M735.6 784.3H811.6M773.6 772.3V796.3" stroke="#7a00ff" stroke-width="2"/>
<circle cx="773.6" cy="784.3" r="5.1" fill="none" stroke="#7a00ff" stroke-width="3.2"/>
<circle cx="773.6" cy="784.3" r="0.7" fill="#222"/>
<path d="M633.9 802.9H713.9M673.9 790.9V814.9" stroke="#7a00ff" stroke-width="2"/>
<circle cx="673.9" cy="802.9" r="5.1" fill="none" stroke="#7a00ff" stroke-width="3.2"/>
<circle cx="673.9" cy="802.9" r="0.7" fill="#222"/>
<path d="M596.1 812.7H665.1M625.1 805.3V820.7" stroke="#7a00ff" stroke-width="2"/>
<circle cx="625.1" cy="812.7" r="5.1" fill="none" stroke="#7a00ff" stroke-width="3.2"/>
<circle cx="625.1" cy="812.7" r="0.7" fill="#222"/>
<path d="M604.4 817.9H680.4M642.4 805.9V829.9" stroke="#7a00ff" stroke-width="2"/>
<circle cx="642.4" cy="817.9" r="5.1" fill="none" stroke="#7a00ff" stroke-width="3.2"/>
<circle cx="642.4" cy="817.9" r="0.7" fill="#222"/>
<path d="M683.3 803.5H759.3M721.3 791.5V815.5" stroke="#7a00ff" stroke-width="2"/>
<circle cx="721.3" cy="803.5" r="5.1" fill="none" stroke="#7a00ff" stroke-width="3.2"/>
<circle cx="721.3" cy="803.5" r="0.7" fill="#222"/>
<path d="M698.3 805.6H774.3M736.3 793.6V817.6" stroke="#7a00ff" stroke-width="2"/>
<circle cx="736.3" cy="805.6" r="5.1" fill="none" stroke="#7a00ff" stroke-width="3.2"/>
<circle cx="736.3" cy="805.6" r="0.7" fill="#222"/>
<path d="M711.1 799.2H787.1M749.1 787.2V811.2" stroke="#7a00ff" stroke-width="2"/>
<circle cx="749.1" cy="799.2" r="5.1" fill="none" stroke="#7a00ff" stroke-width="3.2"/>
<circle cx="749.1" cy="799.2" r="0.7" fill="#222"/>
<path d="M723.2 793.2H799.2M761.2 781.2V805.2" stroke="#7a00ff" stroke-width="2"/>
<circle cx="761.2" cy="793.2" r="5.1" fill="none" stroke="#7a00ff" stroke-width="3.2"/>
<circle cx="761.2" cy="793.2" r="0.7" fill="#222"/>
<path d="M777 820.2H857M817 808.2V832.2" stroke="#7a00ff" stroke-width="2"/>
<circle cx="817" cy="820.2" r="5.1" fill="none" stroke="#7a00ff" stroke-width="3.2"/>
<circle cx="817" cy="820.2" r="0.7" fill="#222"/>
<path d="M781.2 820.2H861.2M821.2 808.2V832.2" stroke="#7a00ff" stroke-width="2"/>
<circle cx="821.2" cy="820.2" r="5.1" fill="none" stroke="#7a00ff" stroke-width="3.2"/>
<circle cx="821.2" cy="820.2" r="0.7" fill="#222"/>
<path d="M832.8 819.6H915.4M872.8 813.5V831.6" stroke="#7a00ff" stroke-width="2"/>
<circle cx="872.8" cy="819.6" r="5.1" fill="none" stroke="#7a00ff" stroke-width="3.2"/>
<circle cx="872.8" cy="819.6" r="0.7" fill="#222"/>
<path d="M809.2 832.2H914.2M860.8 822.2V842.2" stroke="#7a00ff" stroke-width="2"/>
<circle cx="860.8" cy="832.2" r="5.1" fill="none" stroke="#7a00ff" stroke-width="3.2"/>
<circle cx="860.8" cy="832.2" r="0.7" fill="#222"/>
<path d="M710.8 827.6H786.8M748.8 815.6V839.6" stroke="#7a00ff" stroke-width="2"/>
<circle cx="748.8" cy="827.6" r="5.1" fill="none" stroke="#7a00ff" stroke-width="3.2"/>
<circle cx="748.8" cy="827.6" r="0.7" fill="#222"/>
<path d="M613.6 830H689.6M651.6 818V842" stroke="#7a00ff" stroke-width="2"/>
<circle cx="651.6" cy="830" r="5.1" fill="none" stroke="#7a00ff" stroke-width="3.2"/>
<circle cx="651.6" cy="830" r="0.7" fill="#222"/>
<path d="M588.2 838.4H668.2M628.2 826.4V850.4" stroke="#7a00ff" stroke-width="2"/>
<circle cx="628.2" cy="838.4" r="5.1" fill="none" stroke="#7a00ff" stroke-width="3.2"/>
<circle cx="628.2" cy="838.4" r="0.7" fill="#222"/>
<path d="M628.6 831.8H704.6M666.6 819.8V843.8" stroke="#7a00ff" stroke-width="2"/>
<circle cx="666.6" cy="831.8" r="5.1" fill="none" stroke="#7a00ff" stroke-width="3.2"/>
<circle cx="666.6" cy="831.8" r="0.7" fill="#222"/>
<path d="M645.4 832.4H721.4M683.4 820.4V844.4" stroke="#7a00ff" stroke-width="2"/>
<circle cx="683.4" cy="832.4" r="5.1" fill="none" stroke="#7a00ff" stroke-width="3.2"/>
<circle cx="683.4" cy="832.4" r="0.7" fill="#222"/>
<path d="M679.6 831.8H755.6M717.6 819.8V843.8" stroke="#7a00ff" stroke-width="2"/>
<circle cx="717.6" cy="831.8" r="5.1" fill="none" stroke="#7a00ff" stroke-width="3.2"/>
<circle cx="717.6" cy="831.8" r="0.7" fill="#222"/>
<path d="M678.4 840.8H754.4M716.4 828.8V852.8" stroke="#7a00ff" stroke-width="2"/>
<circle cx="716.4" cy="840.8" r="5.1" fill="none" stroke="#7a00ff" stroke-width="3.2"/>
<circle cx="716.4" cy="840.8" r="0.7" fill="#222"/>
<path d="M587.8 854H663.8M625.8 842V866" stroke="#7a00ff" stroke-width="2"/>
<circle cx="625.8" cy="854" r="5.1" fill="none" stroke="#7a00ff" stroke-width="3.2"/>
<circle cx="625.8" cy="854" r="0.7" fill="#222"/>
<path d="M582.4 860.6H658.4M620.4 848.6V872.6" stroke="#7a00ff" stroke-width="2"/>
<circle cx="620.4" cy="860.6" r="5.1" fill="none" stroke="#7a00ff" stroke-width="3.2"/>
<circle cx="620.4" cy="860.6" r="0.7" fill="#222"/>
<path d="M584.8 871.4H660.8M622.8 859.4V883.4" stroke="#7a00ff" stroke-width="2"/>
<circle cx="622.8" cy="871.4" r="5.1" fill="none" stroke="#7a00ff" stroke-width="3.2"/>
<circle cx="622.8" cy="871.4" r="0.7" fill="#222"/>
<path d="M657.4 861.2H727.4M692.4 851.6V881.6" stroke="#7a00ff" stroke-width="2"/>
<circle cx="692.4" cy="861.2" r="5.1" fill="none" stroke="#7a00ff" stroke-width="3.2"/>
<circle cx="692.4" cy="861.2" r="0.7" fill="#222"/>
<path d="M668.4 867.2H757.2M712.2 857.2V877.2" stroke="#7a00ff" stroke-width="2"/>
<circle cx="712.2" cy="867.2" r="5.1" fill="none" stroke="#7a00ff" stroke-width="3.2"/>
<circle cx="712.2" cy="867.2" r="0.7" fill="#222"/>
<path d="M703.3 892.9H792M747.3 885.8V900.2" stroke="#7a00ff" stroke-width="2"/>
<circle cx="747.3" cy="892.9" r="5.1" fill="none" stroke="#7a00ff" stroke-width="3.2"/>
<circle cx="747.3" cy="892.9" r="0.7" fill="#222"/>
<path d="M619.3 900H718M668.4 890V909.2" stroke="#7a00ff" stroke-width="2"/>
<circle cx="668.4" cy="900" r="5.1" fill="none" stroke="#7a00ff" stroke-width="3.2"/>
<circle cx="668.4" cy="900" r="0.7" fill="#222"/>
<path d="M636.3 917H716.8M676.1 909.6V925" stroke="#7a00ff" stroke-width="2"/>
<circle cx="676.1" cy="917" r="5.1" fill="none" stroke="#7a00ff" stroke-width="3.2"/>
<circle cx="676.1" cy="917" r="0.7" fill="#222"/>
<path d="M526.6 859.8H601.6M562.6 850.8V868.8" stroke="#7a00ff" stroke-width="2"/>
<circle cx="562.6" cy="859.8" r="5.1" fill="none" stroke="#7a00ff" stroke-width="3.2"/>
<circle cx="562.6" cy="859.8" r="0.7" fill="#222"/>
<path d="M492.4 867.6H605M565 846V886.2" stroke="#7a00ff" stroke-width="2"/>
<circle cx="565" cy="867.6" r="5.1" fill="none" stroke="#7a00ff" stroke-width="3.2"/>
<circle cx="565" cy="867.6" r="0.7" fill="#222"/>
<path d="M460 897.6H573.4M533.4 884.4V911.4" stroke="#7a00ff" stroke-width="2"/>
<circle cx="533.4" cy="897.6" r="5.1" fill="none" stroke="#7a00ff" stroke-width="3.2"/>
<circle cx="533.4" cy="897.6" r="0.7" fill="#222"/>
<path d="M539.2 893.4H627.4M581.2 883.2V904.2" stroke="#7a00ff" stroke-width="2"/>
<circle cx="581.2" cy="893.4" r="5.1" fill="none" stroke="#7a00ff" stroke-width="3.2"/>
<circle cx="581.2" cy="893.4" r="0.7" fill="#222"/>
<path d="M460.8 904.2H548.8M500.8 891.6V916.8" stroke="#7a00ff" stroke-width="2"/>
<circle cx="500.8" cy="904.2" r="5.1" fill="none" stroke="#7a00ff" stroke-width="3.2"/>
<circle cx="500.8" cy="904.2" r="0.7" fill="#222"/>
<path d="M561.4 920.4H668.6M628.6 906.6V933.6" stroke="#7a00ff" stroke-width="2"/>
<circle cx="628.6" cy="920.4" r="5.1" fill="none" stroke="#7a00ff" stroke-width="3.2"/>
<circle cx="628.6" cy="920.4" r="0.7" fill="#222"/>
<path d="M414 897.6H540M473.6 879.4V915" stroke="#7a00ff" stroke-width="2"/>
<circle cx="473.6" cy="897.6" r="5.1" fill="none" stroke="#7a00ff" stroke-width="3.2"/>
<circle cx="473.6" cy="897.6" r="0.7" fill="#222"/>
<path d="M444.4 940.4H540M491.5 929V952.4" stroke="#7a00ff" stroke-width="2"/>
<circle cx="491.5" cy="940.4" r="5.1" fill="none" stroke="#7a00ff" stroke-width="3.2"/>
<circle cx="491.5" cy="940.4" r="0.7" fill="#222"/>
<path d="M411.6 965.5H513.1M461.8 953.3V978" stroke="#7a00ff" stroke-width="2"/>
<circle cx="461.8" cy="965.5" r="5.1" fill="none" stroke="#7a00ff" stroke-width="3.2"/>
<circle cx="461.8" cy="965.5" r="0.7" fill="#222"/>
<path d="M392.4 974.2H526.7M458.8 960V989" stroke="#7a00ff" stroke-width="2"/>
<circle cx="458.8" cy="974.2" r="5.1" fill="none" stroke="#7a00ff" stroke-width="3.2"/>
<circle cx="458.8" cy="974.2" r="0.7" fill="#222"/>
<path d="M391.4 1034.7H527M458.2 1020.7V1050.7" stroke="#7a00ff" stroke-width="2"/>
<circle cx="458.2" cy="1034.7" r="5.1" fill="none" stroke="#7a00ff" stroke-width="3.2"/>
<circle cx="458.2" cy="1034.7" r="0.7" fill="#222"/>
<path d="M619.2 656.5H674.4M646.7 647.2V666" stroke="#0096ff" stroke-width="2"/>
<circle cx="646.7" cy="656.5" r="5.1" fill="none" stroke="#0096ff" stroke-width="3.2"/>
<circle cx="646.7" cy="656.5" r="0.7" fill="#222"/>
<path d="M545.3 818.4H624M584 806.7V830" stroke="#0096ff" stroke-width="2"/>
<circle cx="584" cy="818.4" r="5.1" fill="none" stroke="#0096ff" stroke-width="3.2"/>
<circle cx="584" cy="818.4" r="0.7" fill="#222"/>
<path d="M683.7 699.4H758.4M721.6 689.4V709.4" stroke="#0096ff" stroke-width="2"/>
<circle cx="721.6" cy="699.4" r="5.1" fill="none" stroke="#0096ff" stroke-width="3.2"/>
<circle cx="721.6" cy="699.4" r="0.7" fill="#222"/>
<path d="M616 711.4H708M648 700.8V721.4" stroke="#0096ff" stroke-width="2"/>
<circle cx="648" cy="711.4" r="5.1" fill="none" stroke="#0096ff" stroke-width="3.2"/>
<circle cx="648" cy="711.4" r="0.7" fill="#222"/>
<path d="M661.2 711.5H737.2M699.2 699.5V723.5" stroke="#0096ff" stroke-width="2"/>
<circle cx="699.2" cy="711.5" r="5.1" fill="none" stroke="#0096ff" stroke-width="3.2"/>
<circle cx="699.2" cy="711.5" r="0.7" fill="#222"/>
<path d="M769.2 720.3H839.2M807.2 708.3V732.3" stroke="#0096ff" stroke-width="2"/>
<circle cx="807.2" cy="720.3" r="5.1" fill="none" stroke="#0096ff" stroke-width="3.2"/>
<circle cx="807.2" cy="720.3" r="0.7" fill="#222"/>
<path d="M614 743.2H671.2M644 735.2V751.2" stroke="#0096ff" stroke-width="2"/>
<circle cx="644" cy="743.2" r="5.1" fill="none" stroke="#0096ff" stroke-width="3.2"/>
<circle cx="644" cy="743.2" r="0.7" fill="#222"/>
<path d="M649 730.4H719M684 715V742.7" stroke="#0096ff" stroke-width="2"/>
<circle cx="684" cy="730.4" r="5.1" fill="none" stroke="#0096ff" stroke-width="3.2"/>
<circle cx="684" cy="730.4" r="0.7" fill="#222"/>
<path d="M705 723.7H778M746.9 712.8V734.7" stroke="#0096ff" stroke-width="2"/>
<circle cx="746.9" cy="723.7" r="5.1" fill="none" stroke="#0096ff" stroke-width="3.2"/>
<circle cx="746.9" cy="723.7" r="0.7" fill="#222"/>
<path d="M637.6 765.1H694.7M671.2 755.5V774.7" stroke="#0096ff" stroke-width="2"/>
<circle cx="671.2" cy="765.1" r="5.1" fill="none" stroke="#0096ff" stroke-width="3.2"/>
<circle cx="671.2" cy="765.1" r="0.7" fill="#222"/>
<path d="M689.2 764H765.2M727.2 752V776" stroke="#0096ff" stroke-width="2"/>
<circle cx="727.2" cy="764" r="5.1" fill="none" stroke="#0096ff" stroke-width="3.2"/>
<circle cx="727.2" cy="764" r="0.7" fill="#222"/>
<path d="M672.7 772.5H748.7M710.7 760.5V784.5" stroke="#0096ff" stroke-width="2"/>
<circle cx="710.7" cy="772.5" r="5.1" fill="none" stroke="#0096ff" stroke-width="3.2"/>
<circle cx="710.7" cy="772.5" r="0.7" fill="#222"/>
<path d="M736.7 767.7H812.7M774.7 755.7V779.7" stroke="#0096ff" stroke-width="2"/>
<circle cx="774.7" cy="767.7" r="5.1" fill="none" stroke="#0096ff" stroke-width="3.2"/>
<circle cx="774.7" cy="767.7" r="0.7" fill="#222"/>
<path d="M584 784H652M622 772.7V795.3" stroke="#0096ff" stroke-width="2"/>
<circle cx="622" cy="784" r="5.1" fill="none" stroke="#0096ff" stroke-width="3.2"/>
<circle cx="622" cy="784" r="0.7" fill="#222"/>
<path d="M617.2 786.4H693.2M655.2 774.4V798.4" stroke="#0096ff" stroke-width="2"/>
<circle cx="655.2" cy="786.4" r="5.1" fill="none" stroke="#0096ff" stroke-width="3.2"/>
<circle cx="655.2" cy="786.4" r="0.7" fill="#222"/>
<path d="M646 791.2H722M684 779.2V803.2" stroke="#0096ff" stroke-width="2"/>
<circle cx="684" cy="791.2" r="5.1" fill="none" stroke="#0096ff" stroke-width="3.2"/>
<circle cx="684" cy="791.2" r="0.7" fill="#222"/>
<path d="M696.7 782.7H772.7M734.7 770.7V794.7" stroke="#0096ff" stroke-width="2"/>
<circle cx="734.7" cy="782.7" r="5.1" fill="none" stroke="#0096ff" stroke-width="3.2"/>
<circle cx="734.7" cy="782.7" r="0.7" fill="#222"/>
<path d="M680.1 786.9H756.1M718.1 774.9V798.9" stroke="#0096ff" stroke-width="2"/>
<circle cx="718.1" cy="786.9" r="5.1" fill="none" stroke="#0096ff" stroke-width="3.2"/>
<circle cx="718.1" cy="786.9" r="0.7" fill="#222"/>
<path d="M702.5 789.6H778.5M740.5 777.6V801.6" stroke="#0096ff" stroke-width="2"/>
<circle cx="740.5" cy="789.6" r="5.1" fill="none" stroke="#0096ff" stroke-width="3.2"/>
<circle cx="740.5" cy="789.6" r="0.7" fill="#222"/>
<path d="M715.3 774.7H791.3M753.3 762.7V786.7" stroke="#0096ff" stroke-width="2"/>
<circle cx="753.3" cy="774.7" r="5.1" fill="none" stroke="#0096ff" stroke-width="3.2"/>
<circle cx="753.3" cy="774.7" r="0.7" fill="#222"/>
<path d="M606.5 804H682.5M644.5 792V816" stroke="#0096ff" stroke-width="2"/>
<circle cx="644.5" cy="804" r="5.1" fill="none" stroke="#0096ff" stroke-width="3.2"/>
<circle cx="644.5" cy="804" r="0.7" fill="#222"/>
<path d="M655.1 806.7H731.1M693.1 794.7V818.7" stroke="#0096ff" stroke-width="2"/>
<circle cx="693.1" cy="806.7" r="5.1" fill="none" stroke="#0096ff" stroke-width="3.2"/>
<circle cx="693.1" cy="806.7" r="0.7" fill="#222"/>
<path d="M675.3 814.7H751.3M713.3 802.7V826.7" stroke="#0096ff" stroke-width="2"/>
<circle cx="713.3" cy="814.7" r="5.1" fill="none" stroke="#0096ff" stroke-width="3.2"/>
<circle cx="713.3" cy="814.7" r="0.7" fill="#222"/>
<path d="M706.3 813.1H782.3M744.3 801.1V825.1" stroke="#0096ff" stroke-width="2"/>
<circle cx="744.3" cy="813.1" r="5.1" fill="none" stroke="#0096ff" stroke-width="3.2"/>
<circle cx="744.3" cy="813.1" r="0.7" fill="#222"/>
<path d="M739.9 807.7H815.9M777.9 795.7V819.7" stroke="#0096ff" stroke-width="2"/>
<circle cx="777.9" cy="807.7" r="5.1" fill="none" stroke="#0096ff" stroke-width="3.2"/>
<circle cx="777.9" cy="807.7" r="0.7" fill="#222"/>
<path d="M666.3 817.3H742.3M704.3 805.3V829.3" stroke="#0096ff" stroke-width="2"/>
<circle cx="704.3" cy="817.3" r="5.1" fill="none" stroke="#0096ff" stroke-width="3.2"/>
<circle cx="704.3" cy="817.3" r="0.7" fill="#222"/>
<path d="M758.6 739.2H834.6M796.6 727.2V751.2" stroke="#0096ff" stroke-width="2"/>
<circle cx="796.6" cy="739.2" r="5.1" fill="none" stroke="#0096ff" stroke-width="3.2"/>
<circle cx="796.6" cy="739.2" r="0.7" fill="#222"/>
<path d="M807.4 761.4H897.4M847.4 752.4V772.2" stroke="#0096ff" stroke-width="2"/>
<circle cx="847.4" cy="761.4" r="5.1" fill="none" stroke="#0096ff" stroke-width="3.2"/>
<circle cx="847.4" cy="761.4" r="0.7" fill="#222"/>
<path d="M819.4 757.8H904M859.4 748.8V766.8" stroke="#0096ff" stroke-width="2"/>
<circle cx="859.4" cy="757.8" r="5.1" fill="none" stroke="#0096ff" stroke-width="3.2"/>
<circle cx="859.4" cy="757.8" r="0.7" fill="#222"/>
<path d="M757.2 775.8H837.4M797.2 763.8V787.8" stroke="#0096ff" stroke-width="2"/>
<circle cx="797.2" cy="775.8" r="5.1" fill="none" stroke="#0096ff" stroke-width="3.2"/>
<circle cx="797.2" cy="775.8" r="0.7" fill="#222"/>
<path d="M833.4 787.2H943.7M873.4 768.6V793.2" stroke="#0096ff" stroke-width="2"/>
<circle cx="873.4" cy="787.2" r="5.1" fill="none" stroke="#0096ff" stroke-width="3.2"/>
<circle cx="873.4" cy="787.2" r="0.7" fill="#222"/>
<path d="M832.8 799.8H917.8M872.8 791.8V808.2" stroke="#0096ff" stroke-width="2"/>
<circle cx="872.8" cy="799.8" r="5.1" fill="none" stroke="#0096ff" stroke-width="3.2"/>
<circle cx="872.8" cy="799.8" r="0.7" fill="#222"/>
<path d="M781.8 793.2H860.2M821.8 785.4V801.6" stroke="#0096ff" stroke-width="2"/>
<circle cx="821.8" cy="793.2" r="5.1" fill="none" stroke="#0096ff" stroke-width="3.2"/>
<circle cx="821.8" cy="793.2" r="0.7" fill="#222"/>
<path d="M749.6 782.4H825.6M787.6 770.4V794.4" stroke="#0096ff" stroke-width="2"/>
<circle cx="787.6" cy="782.4" r="5.1" fill="none" stroke="#0096ff" stroke-width="3.2"/>
<circle cx="787.6" cy="782.4" r="0.7" fill="#222"/>
<path d="M758 802.8H834M796 790.8V814.8" stroke="#0096ff" stroke-width="2"/>
<circle cx="796" cy="802.8" r="5.1" fill="none" stroke="#0096ff" stroke-width="3.2"/>
<circle cx="796" cy="802.8" r="0.7" fill="#222"/>
<path d="M743.6 811.2H819.6M781.6 799.2V823.2" stroke="#0096ff" stroke-width="2"/>
<circle cx="781.6" cy="811.2" r="5.1" fill="none" stroke="#0096ff" stroke-width="3.2"/>
<circle cx="781.6" cy="811.2" r="0.7" fill="#222"/>
<path d="M756.2 820.2H832.2M794.2 808.2V832.2" stroke="#0096ff" stroke-width="2"/>
<circle cx="794.2" cy="820.2" r="5.1" fill="none" stroke="#0096ff" stroke-width="3.2"/>
<circle cx="794.2" cy="820.2" r="0.7" fill="#222"/>
<path d="M806 819.6H882M844 807.6V831.6" stroke="#0096ff" stroke-width="2"/>
<circle cx="844" cy="819.6" r="5.1" fill="none" stroke="#0096ff" stroke-width="3.2"/>
<circle cx="844" cy="819.6" r="0.7" fill="#222"/>
<path d="M816.6 822.6H895M856.6 810.6V834.6" stroke="#0096ff" stroke-width="2"/>
<circle cx="856.6" cy="822.6" r="5.1" fill="none" stroke="#0096ff" stroke-width="3.2"/>
<circle cx="856.6" cy="822.6" r="0.7" fill="#222"/>
<path d="M806.4 829.8H899.2M846.4 817.8V841.8" stroke="#0096ff" stroke-width="2"/>
<circle cx="846.4" cy="829.8" r="5.1" fill="none" stroke="#0096ff" stroke-width="3.2"/>
<circle cx="846.4" cy="829.8" r="0.7" fill="#222"/>
<path d="M724 822H801.4M760 810V834" stroke="#0096ff" stroke-width="2"/>
<circle cx="760" cy="822" r="5.1" fill="none" stroke="#0096ff" stroke-width="3.2"/>
<circle cx="760" cy="822" r="0.7" fill="#222"/>
<path d="M739.4 876.2H819.4M777.4 868.6V883.6" stroke="#0096ff" stroke-width="2"/>
<circle cx="777.4" cy="876.2" r="5.1" fill="none" stroke="#0096ff" stroke-width="3.2"/>
<circle cx="777.4" cy="876.2" r="0.7" fill="#222"/>
<path d="M695.2 815.6H771.2M733.2 803.6V827.6" stroke="#0096ff" stroke-width="2"/>
<circle cx="733.2" cy="815.6" r="5.1" fill="none" stroke="#0096ff" stroke-width="3.2"/>
<circle cx="733.2" cy="815.6" r="0.7" fill="#222"/>
<path d="M606 835.4H684.2M646.2 825.2V845" stroke="#0096ff" stroke-width="2"/>
<circle cx="646.2" cy="835.4" r="5.1" fill="none" stroke="#0096ff" stroke-width="3.2"/>
<circle cx="646.2" cy="835.4" r="0.7" fill="#222"/>
<path d="M649 846.8H725M687 834.8V858.8" stroke="#0096ff" stroke-width="2"/>
<circle cx="687" cy="846.8" r="5.1" fill="none" stroke="#0096ff" stroke-width="3.2"/>
<circle cx="687" cy="846.8" r="0.7" fill="#222"/>
<path d="M689.8 842.6H765.8M727.8 830.6V854.6" stroke="#0096ff" stroke-width="2"/>
<circle cx="727.8" cy="842.6" r="5.1" fill="none" stroke="#0096ff" stroke-width="3.2"/>
<circle cx="727.8" cy="842.6" r="0.7" fill="#222"/>
<path d="M701.8 834.8H777.8M739.8 822.8V846.8" stroke="#0096ff" stroke-width="2"/>
<circle cx="739.8" cy="834.8" r="5.1" fill="none" stroke="#0096ff" stroke-width="3.2"/>
<circle cx="739.8" cy="834.8" r="0.7" fill="#222"/>
<path d="M722.2 846.8H798.2M760.2 834.8V858.8" stroke="#0096ff" stroke-width="2"/>
<circle cx="760.2" cy="846.8" r="5.1" fill="none" stroke="#0096ff" stroke-width="3.2"/>
<circle cx="760.2" cy="846.8" r="0.7" fill="#222"/>
<path d="M658.8 858.8H750.6M704.4 848.8V868.8" stroke="#0096ff" stroke-width="2"/>
<circle cx="704.4" cy="858.8" r="5.1" fill="none" stroke="#0096ff" stroke-width="3.2"/>
<circle cx="704.4" cy="858.8" r="0.7" fill="#222"/>
<path d="M646 889.3H736M690.7 880.3V897.8" stroke="#0096ff" stroke-width="2"/>
<circle cx="690.7" cy="889.3" r="5.1" fill="none" stroke="#0096ff" stroke-width="3.2"/>
<circle cx="690.7" cy="889.3" r="0.7" fill="#222"/>
<path d="M673.9 505.6H710.4M692 500.8V510.4" stroke="#e0ff00" stroke-width="2"/>
<circle cx="692" cy="505.6" r="5.1" fill="none" stroke="#e0ff00" stroke-width="3.2"/>
<circle cx="692" cy="505.6" r="0.7" fill="#222"/>
<path d="M663.2 515.5H724M693.6 508V529.6" stroke="#e0ff00" stroke-width="2"/>
<circle cx="693.6" cy="515.5" r="5.1" fill="none" stroke="#e0ff00" stroke-width="3.2"/>
<circle cx="693.6" cy="515.5" r="0.7" fill="#222"/>
<path d="M631.2 560.8H700M664.8 547.2V576" stroke="#e0ff00" stroke-width="2"/>
<circle cx="664.8" cy="560.8" r="5.1" fill="none" stroke="#e0ff00" stroke-width="3.2"/>
<circle cx="664.8" cy="560.8" r="0.7" fill="#222"/>
<path d="M693.6 566H723.5M708.5 560V572.8" stroke="#e0ff00" stroke-width="2"/>
<circle cx="708.5" cy="566" r="5.1" fill="none" stroke="#e0ff00" stroke-width="3.2"/>
<circle cx="708.5" cy="566" r="0.7" fill="#222"/>
<path d="M662.4 583.7H720M690.9 572V594.4" stroke="#e0ff00" stroke-width="2"/>
<circle cx="690.9" cy="583.7" r="5.1" fill="none" stroke="#e0ff00" stroke-width="3.2"/>
<circle cx="690.9" cy="583.7" r="0.7" fill="#222"/>
<path d="M676 590.9H738.4M707.2 579.2V602.9" stroke="#e0ff00" stroke-width="2"/>
<circle cx="707.2" cy="590.9" r="5.1" fill="none" stroke="#e0ff00" stroke-width="3.2"/>
<circle cx="707.2" cy="590.9" r="0.7" fill="#222"/>
<path d="M668.8 603.2H716.8M687.2 592V616" stroke="#e0ff00" stroke-width="2"/>
<circle cx="687.2" cy="603.2" r="5.1" fill="none" stroke="#e0ff00" stroke-width="3.2"/>
<circle cx="687.2" cy="603.2" r="0.7" fill="#222"/>
<path d="M659.2 619.2H716.8M687.7 608V630.4" stroke="#e0ff00" stroke-width="2"/>
<circle cx="687.7" cy="619.2" r="5.1" fill="none" stroke="#e0ff00" stroke-width="3.2"/>
<circle cx="687.7" cy="619.2" r="0.7" fill="#222"/>
<path d="M758.4 627.5H797.6M777.9 620V635" stroke="#e0ff00" stroke-width="2"/>
<circle cx="777.9" cy="627.5" r="5.1" fill="none" stroke="#e0ff00" stroke-width="3.2"/>
<circle cx="777.9" cy="627.5" r="0.7" fill="#222"/>
<path d="M728 633.9H774.4M753.3 625.6V642" stroke="#e0ff00" stroke-width="2"/>
<circle cx="753.3" cy="633.9" r="5.1" fill="none" stroke="#e0ff00" stroke-width="3.2"/>
<circle cx="753.3" cy="633.9" r="0.7" fill="#222"/>
<path d="M699.2 643.7H772.8M735.8 631.5V652.3" stroke="#e0ff00" stroke-width="2"/>
<circle cx="735.8" cy="643.7" r="5.1" fill="none" stroke="#e0ff00" stroke-width="3.2"/>
<circle cx="735.8" cy="643.7" r="0.7" fill="#222"/>
<path d="M696.5 660.3H765.3M728.5 649V669.3" stroke="#e0ff00" stroke-width="2"/>
<circle cx="728.5" cy="660.3" r="5.1" fill="none" stroke="#e0ff00" stroke-width="3.2"/>
<circle cx="728.5" cy="660.3" r="0.7" fill="#222"/>
<path d="M673.6 667.2H773.9M709.9 655.5V679" stroke="#e0ff00" stroke-width="2"/>
<circle cx="709.9" cy="667.2" r="5.1" fill="none" stroke="#e0ff00" stroke-width="3.2"/>
<circle cx="709.9" cy="667.2" r="0.7" fill="#222"/>
<path d="M727.5 709H803.4M763.4 697V721" stroke="#e0ff00" stroke-width="2"/>
<circle cx="763.4" cy="709" r="5.1" fill="none" stroke="#e0ff00" stroke-width="3.2"/>
<circle cx="763.4" cy="709" r="0.7" fill="#222"/>
<path d="M585.3 449.2H648M616.5 428.3V468.8" stroke="#ff0000" stroke-width="2"/>
<circle cx="616.5" cy="449.2" r="5.1" fill="none" stroke="#ff0000" stroke-width="3.2"/>
<circle cx="616.5" cy="449.2" r="0.7" fill="#222"/>
<path d="M676.8 498.9H710.4M693.6 492V505.6" stroke="#ff0000" stroke-width="2"/>
<circle cx="693.6" cy="498.9" r="5.1" fill="none" stroke="#ff0000" stroke-width="3.2"/>
<circle cx="693.6" cy="498.9" r="0.7" fill="#222"/>
<path d="M634.7 545.6H702.4M672 527.7V562.4" stroke="#ff0000" stroke-width="2"/>
<circle cx="672" cy="545.6" r="5.1" fill="none" stroke="#ff0000" stroke-width="3.2"/>
<circle cx="672" cy="545.6" r="0.7" fill="#222"/>
<path d="M698.4 540H729.6M713.9 533V547" stroke="#ff0000" stroke-width="2"/>
<circle cx="713.9" cy="540" r="5.1" fill="none" stroke="#ff0000" stroke-width="3.2"/>
<circle cx="713.9" cy="540" r="0.7" fill="#222"/>
<path d="M676.8 548.5H740.8M708.8 542.4V560.8" stroke="#ff0000" stroke-width="2"/>
<circle cx="708.8" cy="548.5" r="5.1" fill="none" stroke="#ff0000" stroke-width="3.2"/>
<circle cx="708.8" cy="548.5" r="0.7" fill="#222"/>
<path d="M643.2 606.1H684.8M664 598.4V614.4" stroke="#ff0000" stroke-width="2"/>
<circle cx="664" cy="606.1" r="5.1" fill="none" stroke="#ff0000" stroke-width="3.2"/>
<circle cx="664" cy="606.1" r="0.7" fill="#222"/>
<path d="M243.31 329.2H308.2V326.44H373.09V320.94H437.98V304.43H502.86V298.92H567.75V290.67H632.64V213.61H697.52V42.99H762.41V161.32H827.3V290.67H892.19V334.7" fill="none" stroke="#000" stroke-width="4.4" stroke-linejoin="miter"/>
<line x1="665.1" y1="203" x2="665.1" y2="223" stroke="#000" stroke-width="2.6" stroke-linecap="butt"/>
<line x1="729.9" y1="32.4" x2="729.9" y2="54" stroke="#000" stroke-width="2.6" stroke-linecap="butt"/>
<line x1="794.9" y1="149.6" x2="794.9" y2="173" stroke="#000" stroke-width="2.6" stroke-linecap="butt"/>
<line x1="859.7" y1="272.5" x2="859.7" y2="308.8" stroke="#000" stroke-width="2.6" stroke-linecap="butt"/>
<line x1="600.2" y1="283.4" x2="600.2" y2="297.1" stroke="#000" stroke-width="2.6" stroke-linecap="butt"/>
<line x1="535.3" y1="292" x2="535.3" y2="306" stroke="#000" stroke-width="2.6" stroke-linecap="butt"/>
<line x1="470.4" y1="298" x2="470.4" y2="311" stroke="#000" stroke-width="2.6" stroke-linecap="butt"/>
<line x1="405.5" y1="317" x2="405.5" y2="324" stroke="#000" stroke-width="2.6" stroke-linecap="butt"/>
<line x1="340.6" y1="324" x2="340.6" y2="329" stroke="#000" stroke-width="2.6" stroke-linecap="butt"/>
<line x1="275.7" y1="327" x2="275.7" y2="331" stroke="#000" stroke-width="2.6" stroke-linecap="butt"/>
<polyline points="243.31,330.61 244.93,330.49 246.56,330.37 248.18,330.24 249.8,330.12 251.42,330 253.05,329.88 254.67,329.76 256.29,329.63 257.91,329.51 259.53,329.39 261.16,329.27 262.78,329.15 264.4,329.03 266.02,328.9 267.65,328.78 269.27,328.66 270.89,328.54 272.51,328.42 274.13,328.3 275.76,328.17 277.38,328.05 279,327.93 280.62,327.81 282.24,327.69 283.87,327.57 285.49,327.44 287.11,327.32 288.73,327.2 290.36,327.08 291.98,326.96 293.6,326.84 295.22,326.71 296.84,326.59 298.47,326.47 300.09,326.35 301.71,326.23 303.33,326.11 304.96,325.98 306.58,325.86 308.2,325.74 309.82,325.62 311.44,325.5 313.07,325.38 314.69,325.25 316.31,325.13 317.93,325.01 319.56,324.89 321.18,324.77 322.8,324.65 324.42,324.52 326.04,324.4 327.67,324.28 329.29,324.16 330.91,324.04 332.53,323.91 334.15,323.79 335.78,323.67 337.4,323.55 339.02,323.43 340.64,323.31 342.27,323.18 343.89,323.06 345.51,322.94 347.13,322.82 348.75,322.7 350.38,322.58 352,322.45 353.62,322.33 355.24,322.21 356.87,322.09 358.49,321.97 360.11,321.85 361.73,321.72 363.35,321.6 364.98,321.48 366.6,321.36 368.22,321.24 369.84,321.12 371.47,320.99 373.09,320.87 374.71,320.75 376.33,320.63 377.95,320.51 379.58,320.39 381.2,320.26 382.82,320.14 384.44,320.02 386.06,319.9 387.69,319.78 389.31,319.66 390.93,319.53 392.55,319.41 394.18,319.29 395.8,319.17 397.42,319.05 399.04,318.93 400.66,318.8 402.29,318.68 403.91,318.56 405.53,318.44 407.15,318.32 408.78,318.19 410.4,318.07 412.02,317.95 413.64,317.83 415.26,317.71 416.89,317.59 418.51,317.46 420.13,317.34 421.75,317.22 423.38,317.1 425,316.98 426.62,316.86 428.24,316.73 429.86,316.61 431.49,316.49 433.11,316.37 434.73,316.25 436.35,316.13 437.98,316 439.6,315.88 441.22,315.76 442.84,315.64 444.46,315.52 446.09,315.4 447.71,315.27 449.33,315.15 450.95,315.03 452.57,314.91 454.2,314.79 455.82,314.67 457.44,314.54 459.06,314.42 460.69,314.3 462.31,314.18 463.93,314.06 465.55,313.94 467.17,313.81 468.8,313.69 470.42,313.57 472.04,313.45 473.66,313.33 475.29,313.21 476.91,313.08 478.53,312.96 480.15,312.84 481.77,312.72 483.4,312.6 485.02,312.47 486.64,312.35 488.26,312.23 489.88,312.11 491.51,311.99 493.13,311.87 494.75,311.74 496.37,311.62 498,311.5 499.62,311.38 501.24,311.26 502.86,311.13 504.48,311.01 506.11,310.89 507.73,310.77 509.35,310.65 510.97,310.52 512.6,310.4 514.22,310.28 515.84,310.16 517.46,310.03 519.08,309.91 520.71,309.79 522.33,309.66 523.95,309.54 525.57,309.42 527.2,309.29 528.82,309.17 530.44,309.04 532.06,308.92 533.68,308.79 535.31,308.67 536.93,308.54 538.55,308.41 540.17,308.28 541.79,308.15 543.42,308.02 545.04,307.89 546.66,307.75 548.28,307.62 549.91,307.48 551.53,307.34 553.15,307.2 554.77,307.05 556.39,306.9 558.02,306.75 559.64,306.6 561.26,306.44 562.88,306.28 564.51,306.11 566.13,305.94 567.75,305.76 569.37,305.57 570.99,305.37 572.62,305.17 574.24,304.96 575.86,304.74 577.48,304.51 579.11,304.26 580.73,304.01 582.35,303.74 583.97,303.45 585.59,303.15 587.22,302.82 588.84,302.48 590.46,302.12 592.08,301.73 593.71,301.32 595.33,300.88 596.95,300.41 598.57,299.91 600.19,299.38 601.82,298.81 603.44,298.2 605.06,297.54 606.68,296.85 608.3,296.1 609.93,295.31 611.55,294.46 613.17,293.56 614.79,292.59 616.42,291.56 618.04,290.46 619.66,289.3 621.28,288.05 622.9,286.73 624.53,285.33 626.15,283.84 627.77,282.26 629.39,280.59 631.02,278.82 632.64,276.95 634.26,274.98 635.88,272.89 637.5,270.7 639.13,268.39 640.75,265.97 642.37,263.42 643.99,260.75 645.62,257.96 647.24,255.04 648.86,251.99 650.48,248.81 652.1,245.5 653.73,242.06 655.35,238.48 656.97,234.77 658.59,230.93 660.21,226.96 661.84,222.87 663.46,218.64 665.08,214.3 666.7,209.83 668.33,205.25 669.95,200.56 671.57,195.77 673.19,190.87 674.81,185.89 676.44,180.81 678.06,175.66 679.68,170.44 681.3,165.17 682.93,159.84 684.55,154.47 686.17,149.07 687.79,143.66 689.41,138.23 691.04,132.82 692.66,127.42 694.28,122.06 695.9,116.74 697.52,111.48 699.15,106.29 700.77,101.18 702.39,96.18 704.01,91.29 705.64,86.52 707.26,81.9 708.88,77.43 710.5,73.13 712.12,69.01 713.75,65.09 715.37,61.37 716.99,57.86 718.61,54.58 720.24,51.55 721.86,48.75 723.48,46.22 725.1,43.95 726.72,41.95 728.35,40.23 729.97,38.8 731.59,37.65 733.21,36.79 734.84,36.23 736.46,35.97 738.08,36 739.7,36.32 741.32,36.94 742.95,37.86 744.57,39.06 746.19,40.54 747.81,42.3 749.43,44.34 751.06,46.63 752.68,49.19 754.3,51.99 755.92,55.03 757.55,58.3 759.17,61.78 760.79,65.47 762.41,69.35 764.03,73.41 765.66,77.64 767.28,82.03 768.9,86.55 770.52,91.2 772.15,95.96 773.77,100.83 775.39,105.78 777.01,110.8 778.63,115.87 780.26,121 781.88,126.15 783.5,131.32 785.12,136.5 786.75,141.67 788.37,146.83 789.99,151.95 791.61,157.03 793.23,162.07 794.86,167.04 796.48,171.95 798.1,176.77 799.72,181.51 801.35,186.16 802.97,190.71 804.59,195.16 806.21,199.49 807.83,203.71 809.46,207.81 811.08,211.78 812.7,215.63 814.32,219.35 815.94,222.95 817.57,226.41 819.19,229.74 820.81,232.93 822.43,236 824.06,238.93 825.68,241.73 827.3,244.41 828.92,246.95 830.54,249.37 832.17,251.67 833.79,253.85 835.41,255.91 837.03,257.86 838.66,259.69 840.28,261.42 841.9,263.05 843.52,264.57 845.14,265.99 846.77,267.33 848.39,268.57 850.01,269.73 851.63,270.8 853.26,271.8 854.88,272.72 856.5,273.57 858.12,274.36 859.74,275.08 861.37,275.74 862.99,276.34 864.61,276.89 866.23,277.39 867.85,277.84 869.48,278.25 871.1,278.62 872.72,278.94 874.34,279.23 875.97,279.49 877.59,279.71 879.21,279.91 880.83,280.08 882.45,280.22 884.08,280.34 885.7,280.44 887.32,280.52 888.94,280.58 890.57,280.62 892.19,280.65" fill="none" stroke="#ff0000" stroke-width="5.4" stroke-linejoin="round" stroke-linecap="butt"/>
<path d="M978.45 401.26V458.92H982.51V514.18H998.73V569.44H998.73V624.7H1071.72V679.96H1233.92V735.22H1262.3V790.48H1250.14V845.74H1071.72V901H1006.84V956.26H986.56V1011.52H982.51V1066.78" fill="none" stroke="#000" stroke-width="4.4" stroke-linejoin="miter"/>
<line x1="973" y1="431.3" x2="984.4" y2="431.3" stroke="#000" stroke-width="2.6" stroke-linecap="butt"/>
<line x1="977.9" y1="486.6" x2="992.8" y2="486.6" stroke="#000" stroke-width="2.6" stroke-linecap="butt"/>
<line x1="988.6" y1="541.8" x2="1008.5" y2="541.8" stroke="#000" stroke-width="2.6" stroke-linecap="butt"/>
<line x1="979.1" y1="596.6" x2="1018.5" y2="596.6" stroke="#000" stroke-width="2.6" stroke-linecap="butt"/>
<line x1="1039.3" y1="651.9" x2="1104" y2="651.9" stroke="#000" stroke-width="2.6" stroke-linecap="butt"/>
<line x1="1199" y1="707.5" x2="1267.5" y2="707.5" stroke="#000" stroke-width="2.6" stroke-linecap="butt"/>
<line x1="1228.5" y1="762.9" x2="1297" y2="762.9" stroke="#000" stroke-width="2.6" stroke-linecap="butt"/>
<line x1="1230.1" y1="818" x2="1269.4" y2="818" stroke="#000" stroke-width="2.6" stroke-linecap="butt"/>
<line x1="1060.3" y1="873.2" x2="1082.6" y2="873.2" stroke="#000" stroke-width="2.6" stroke-linecap="butt"/>
<line x1="1000.2" y1="928.5" x2="1013.7" y2="928.5" stroke="#000" stroke-width="2.6" stroke-linecap="butt"/>
<line x1="983.9" y1="983.4" x2="992.3" y2="983.4" stroke="#000" stroke-width="2.6" stroke-linecap="butt"/>
<line x1="977.6" y1="1038.7" x2="988.9" y2="1038.7" stroke="#000" stroke-width="2.6" stroke-linecap="butt"/>
<polyline points="974.97,403.66 974.97,404.99 974.97,406.31 974.97,407.64 974.97,408.96 974.97,410.29 974.97,411.62 974.97,412.94 974.97,414.27 974.97,415.6 974.97,416.92 974.97,418.25 974.98,419.57 974.98,420.9 974.98,422.23 974.98,423.55 974.98,424.88 974.98,426.21 974.98,427.53 974.99,428.86 974.99,430.18 974.99,431.51 974.99,432.84 975,434.16 975,435.49 975,436.82 975,438.14 975.01,439.47 975.01,440.79 975.02,442.12 975.02,443.45 975.02,444.77 975.03,446.1 975.03,447.43 975.04,448.75 975.04,450.08 975.05,451.4 975.06,452.73 975.06,454.06 975.07,455.38 975.08,456.71 975.09,458.04 975.1,459.36 975.11,460.69 975.12,462.01 975.13,463.34 975.14,464.67 975.15,465.99 975.16,467.32 975.18,468.65 975.19,469.97 975.21,471.3 975.22,472.62 975.24,473.95 975.26,475.28 975.28,476.6 975.3,477.93 975.32,479.26 975.34,480.58 975.37,481.91 975.4,483.23 975.42,484.56 975.45,485.89 975.48,487.21 975.52,488.54 975.55,489.87 975.59,491.19 975.63,492.52 975.67,493.84 975.71,495.17 975.76,496.5 975.81,497.82 975.86,499.15 975.91,500.48 975.97,501.8 976.03,503.13 976.09,504.45 976.16,505.78 976.23,507.11 976.3,508.43 976.38,509.76 976.46,511.09 976.55,512.41 976.64,513.74 976.73,515.06 976.83,516.39 976.94,517.72 977.05,519.04 977.16,520.37 977.29,521.7 977.41,523.02 977.55,524.35 977.69,525.67 977.83,527 977.99,528.33 978.15,529.65 978.32,530.98 978.49,532.31 978.68,533.63 978.87,534.96 979.08,536.28 979.29,537.61 979.51,538.94 979.74,540.26 979.98,541.59 980.23,542.92 980.49,544.24 980.77,545.57 981.05,546.89 981.35,548.22 981.66,549.55 981.99,550.87 982.32,552.2 982.67,553.53 983.04,554.85 983.42,556.18 983.82,557.5 984.23,558.83 984.65,560.16 985.1,561.48 985.56,562.81 986.04,564.14 986.54,565.46 987.05,566.79 987.59,568.11 988.15,569.44 988.72,570.77 989.32,572.09 989.94,573.42 990.58,574.74 991.24,576.07 991.93,577.4 992.64,578.72 993.37,580.05 994.13,581.38 994.92,582.7 995.73,584.03 996.57,585.35 997.43,586.68 998.33,588.01 999.25,589.33 1000.2,590.66 1001.18,591.99 1002.19,593.31 1003.23,594.64 1004.3,595.96 1005.4,597.29 1006.54,598.62 1007.71,599.94 1008.91,601.27 1010.14,602.6 1011.41,603.92 1012.72,605.25 1014.05,606.57 1015.43,607.9 1016.84,609.23 1018.29,610.55 1019.77,611.88 1021.29,613.21 1022.85,614.53 1024.45,615.86 1026.09,617.18 1027.76,618.51 1029.47,619.84 1031.23,621.16 1033.02,622.49 1034.85,623.82 1036.72,625.14 1038.63,626.47 1040.58,627.79 1042.57,629.12 1044.6,630.45 1046.67,631.77 1048.78,633.1 1050.93,634.43 1053.12,635.75 1055.35,637.08 1057.61,638.4 1059.92,639.73 1062.27,641.06 1064.65,642.38 1067.07,643.71 1069.53,645.04 1072.03,646.36 1074.57,647.69 1077.14,649.01 1079.74,650.34 1082.38,651.67 1085.06,652.99 1087.77,654.32 1090.51,655.65 1093.28,656.97 1096.09,658.3 1098.92,659.62 1101.79,660.95 1104.68,662.28 1107.6,663.6 1110.55,664.93 1113.52,666.26 1116.51,667.58 1119.53,668.91 1122.56,670.23 1125.62,671.56 1128.7,672.89 1131.79,674.21 1134.9,675.54 1138.02,676.87 1141.15,678.19 1144.29,679.52 1147.45,680.84 1150.61,682.17 1153.77,683.5 1156.94,684.82 1160.11,686.15 1163.28,687.48 1166.45,688.8 1169.62,690.13 1172.78,691.45 1175.93,692.78 1179.07,694.11 1182.2,695.43 1185.32,696.76 1188.42,698.09 1191.51,699.41 1194.57,700.74 1197.62,702.06 1200.63,703.39 1203.63,704.72 1206.59,706.04 1209.52,707.37 1212.43,708.7 1215.29,710.02 1218.12,711.35 1220.91,712.67 1223.66,714 1226.37,715.33 1229.04,716.65 1231.65,717.98 1234.22,719.31 1236.73,720.63 1239.2,721.96 1241.6,723.28 1243.95,724.61 1246.25,725.94 1248.48,727.26 1250.65,728.59 1252.75,729.92 1254.79,731.24 1256.76,732.57 1258.66,733.89 1260.49,735.22 1262.25,736.55 1263.94,737.87 1265.55,739.2 1267.08,740.52 1268.53,741.85 1269.91,743.18 1271.2,744.5 1272.42,745.83 1273.55,747.16 1274.6,748.48 1275.56,749.81 1276.44,751.13 1277.23,752.46 1277.93,753.79 1278.55,755.11 1279.08,756.44 1279.52,757.77 1279.88,759.09 1280.14,760.42 1280.32,761.74 1280.4,763.07 1280.4,764.4 1280.3,765.72 1280.12,767.05 1279.85,768.38 1279.49,769.7 1279.04,771.03 1278.5,772.35 1277.87,773.68 1277.16,775.01 1276.36,776.33 1275.47,777.66 1274.5,778.99 1273.45,780.31 1272.31,781.64 1271.09,782.96 1269.78,784.29 1268.4,785.62 1266.94,786.94 1265.4,788.27 1263.78,789.6 1262.09,790.92 1260.32,792.25 1258.49,793.57 1256.58,794.9 1254.6,796.23 1252.55,797.55 1250.44,798.88 1248.27,800.21 1246.03,801.53 1243.73,802.86 1241.38,804.18 1238.97,805.51 1236.5,806.84 1233.98,808.16 1231.41,809.49 1228.79,810.82 1226.12,812.14 1223.41,813.47 1220.65,814.79 1217.86,816.12 1215.02,817.45 1212.15,818.77 1209.25,820.1 1206.31,821.43 1203.34,822.75 1200.35,824.08 1197.33,825.4 1194.28,826.73 1191.22,828.06 1188.13,829.38 1185.03,830.71 1181.91,832.04 1178.78,833.36 1175.63,834.69 1172.48,836.01 1169.32,837.34 1166.15,838.67 1162.98,839.99 1159.81,841.32 1156.64,842.65 1153.47,843.97 1150.31,845.3 1147.15,846.62 1144,847.95 1140.85,849.28 1137.72,850.6 1134.6,851.93 1131.5,853.26 1128.41,854.58 1125.33,855.91 1122.28,857.23 1119.24,858.56 1116.23,859.89 1113.24,861.21 1110.27,862.54 1107.32,863.87 1104.41,865.19 1101.52,866.52 1098.66,867.84 1095.82,869.17 1093.02,870.5 1090.25,871.82 1087.51,873.15 1084.81,874.48 1082.13,875.8 1079.5,877.13 1076.89,878.45 1074.33,879.78 1071.79,881.11 1069.3,882.43 1066.84,883.76 1064.42,885.09 1062.04,886.41 1059.7,887.74 1057.4,889.06 1055.13,890.39 1052.91,891.72 1050.72,893.04 1048.58,894.37 1046.47,895.7 1044.4,897.02 1042.38,898.35 1040.39,899.67 1038.45,901 1036.54,902.33 1034.67,903.65 1032.85,904.98 1031.06,906.3 1029.31,907.63 1027.6,908.96 1025.93,910.28 1024.3,911.61 1022.7,912.94 1021.15,914.26 1019.63,915.59 1018.15,916.91 1016.71,918.24 1015.3,919.57 1013.93,920.89 1012.59,922.22 1011.29,923.55 1010.02,924.87 1008.79,926.2 1007.59,927.52 1006.43,928.85 1005.3,930.18 1004.2,931.5 1003.13,932.83 1002.09,934.16 1001.08,935.48 1000.11,936.81 999.16,938.13 998.24,939.46 997.35,940.79 996.49,942.11 995.65,943.44 994.84,944.77 994.06,946.09 993.3,947.42 992.57,948.74 991.86,950.07 991.18,951.4 990.52,952.72 989.88,954.05 989.26,955.38 988.67,956.7 988.09,958.03 987.54,959.35 987.01,960.68 986.49,962.01 985.99,963.33 985.52,964.66 985.06,965.99 984.61,967.31 984.19,968.64 983.78,969.96 983.38,971.29 983,972.62 982.64,973.94 982.29,975.27 981.95,976.6 981.63,977.92 981.32,979.25 981.03,980.57 980.74,981.9 980.47,983.23 980.21,984.55 979.96,985.88 979.72,987.21 979.49,988.53 979.27,989.86 979.06,991.18 978.85,992.51 978.66,993.84 978.48,995.16 978.3,996.49 978.13,997.82 977.97,999.14 977.82,1000.47 977.67,1001.79 977.53,1003.12 977.4,1004.45 977.27,1005.77 977.15,1007.1 977.04,1008.43 976.93,1009.75 976.82,1011.08 976.72,1012.4 976.63,1013.73 976.54,1015.06 976.45,1016.38 976.37,1017.71 976.3,1019.04 976.22,1020.36 976.15,1021.69 976.09,1023.01 976.02,1024.34 975.96,1025.67 975.91,1026.99 975.85,1028.32 975.8,1029.65 975.75,1030.97 975.71,1032.3 975.67,1033.62 975.62,1034.95 975.59,1036.28 975.55,1037.6 975.51,1038.93 975.48,1040.26 975.45,1041.58 975.42,1042.91 975.39,1044.23 975.37,1045.56 975.34,1046.89 975.32,1048.21 975.3,1049.54 975.28,1050.87 975.26,1052.19 975.24,1053.52 975.22,1054.84 975.2,1056.17 975.19,1057.5 975.18,1058.82 975.16,1060.15 975.15,1061.48 975.14,1062.8 975.13,1064.13 975.11,1065.45 975.1,1066.78" fill="none" stroke="#ff0000" stroke-width="5.4" stroke-linejoin="round" stroke-linecap="butt"/>
<rect x="181.0" y="4.5" width="773.5" height="344.0" fill="none" stroke="#000" stroke-width="4.5"/>
<rect x="181.0" y="348.5" width="773.5" height="773.5" fill="none" stroke="#000" stroke-width="4.5"/>
<rect x="954.5" y="348.5" width="343.0" height="773.5" fill="none" stroke="#000" stroke-width="4.5"/>
<line x1="243.31" y1="4.5" x2="243.31" y2="12.1" stroke="#000" stroke-width="4.5" stroke-linecap="butt"/>
<line x1="243.31" y1="348.5" x2="243.31" y2="340.9" stroke="#000" stroke-width="4.5" stroke-linecap="butt"/>
<line x1="243.31" y1="1122" x2="243.31" y2="1114.4" stroke="#000" stroke-width="4.5" stroke-linecap="butt"/>
<line x1="308.2" y1="4.5" x2="308.2" y2="20.1" stroke="#000" stroke-width="4.5" stroke-linecap="butt"/>
<line x1="308.2" y1="348.5" x2="308.2" y2="332.9" stroke="#000" stroke-width="4.5" stroke-linecap="butt"/>
<line x1="308.2" y1="1122" x2="308.2" y2="1106.4" stroke="#000" stroke-width="4.5" stroke-linecap="butt"/>
<line x1="373.09" y1="4.5" x2="373.09" y2="12.1" stroke="#000" stroke-width="4.5" stroke-linecap="butt"/>
<line x1="373.09" y1="348.5" x2="373.09" y2="340.9" stroke="#000" stroke-width="4.5" stroke-linecap="butt"/>
<line x1="373.09" y1="1122" x2="373.09" y2="1114.4" stroke="#000" stroke-width="4.5" stroke-linecap="butt"/>
<line x1="437.98" y1="4.5" x2="437.98" y2="20.1" stroke="#000" stroke-width="4.5" stroke-linecap="butt"/>
<line x1="437.98" y1="348.5" x2="437.98" y2="332.9" stroke="#000" stroke-width="4.5" stroke-linecap="butt"/>
<line x1="437.98" y1="1122" x2="437.98" y2="1106.4" stroke="#000" stroke-width="4.5" stroke-linecap="butt"/>
<line x1="502.86" y1="4.5" x2="502.86" y2="12.1" stroke="#000" stroke-width="4.5" stroke-linecap="butt"/>
<line x1="502.86" y1="348.5" x2="502.86" y2="340.9" stroke="#000" stroke-width="4.5" stroke-linecap="butt"/>
<line x1="502.86" y1="1122" x2="502.86" y2="1114.4" stroke="#000" stroke-width="4.5" stroke-linecap="butt"/>
<line x1="567.75" y1="4.5" x2="567.75" y2="20.1" stroke="#000" stroke-width="4.5" stroke-linecap="butt"/>
<line x1="567.75" y1="348.5" x2="567.75" y2="332.9" stroke="#000" stroke-width="4.5" stroke-linecap="butt"/>
<line x1="567.75" y1="1122" x2="567.75" y2="1106.4" stroke="#000" stroke-width="4.5" stroke-linecap="butt"/>
<line x1="632.64" y1="4.5" x2="632.64" y2="12.1" stroke="#000" stroke-width="4.5" stroke-linecap="butt"/>
<line x1="632.64" y1="348.5" x2="632.64" y2="340.9" stroke="#000" stroke-width="4.5" stroke-linecap="butt"/>
<line x1="632.64" y1="1122" x2="632.64" y2="1114.4" stroke="#000" stroke-width="4.5" stroke-linecap="butt"/>
<line x1="697.52" y1="4.5" x2="697.52" y2="20.1" stroke="#000" stroke-width="4.5" stroke-linecap="butt"/>
<line x1="697.52" y1="348.5" x2="697.52" y2="332.9" stroke="#000" stroke-width="4.5" stroke-linecap="butt"/>
<line x1="697.52" y1="1122" x2="697.52" y2="1106.4" stroke="#000" stroke-width="4.5" stroke-linecap="butt"/>
<line x1="762.41" y1="4.5" x2="762.41" y2="12.1" stroke="#000" stroke-width="4.5" stroke-linecap="butt"/>
<line x1="762.41" y1="348.5" x2="762.41" y2="340.9" stroke="#000" stroke-width="4.5" stroke-linecap="butt"/>
<line x1="762.41" y1="1122" x2="762.41" y2="1114.4" stroke="#000" stroke-width="4.5" stroke-linecap="butt"/>
<line x1="827.3" y1="4.5" x2="827.3" y2="20.1" stroke="#000" stroke-width="4.5" stroke-linecap="butt"/>
<line x1="827.3" y1="348.5" x2="827.3" y2="332.9" stroke="#000" stroke-width="4.5" stroke-linecap="butt"/>
<line x1="827.3" y1="1122" x2="827.3" y2="1106.4" stroke="#000" stroke-width="4.5" stroke-linecap="butt"/>
<line x1="892.19" y1="4.5" x2="892.19" y2="12.1" stroke="#000" stroke-width="4.5" stroke-linecap="butt"/>
<line x1="892.19" y1="348.5" x2="892.19" y2="340.9" stroke="#000" stroke-width="4.5" stroke-linecap="butt"/>
<line x1="892.19" y1="1122" x2="892.19" y2="1114.4" stroke="#000" stroke-width="4.5" stroke-linecap="butt"/>
<line x1="181" y1="334.7" x2="196.6" y2="334.7" stroke="#000" stroke-width="4.5" stroke-linecap="butt"/>
<line x1="954.5" y1="334.7" x2="938.9" y2="334.7" stroke="#000" stroke-width="4.5" stroke-linecap="butt"/>
<line x1="181" y1="279.66" x2="188.6" y2="279.66" stroke="#000" stroke-width="4.5" stroke-linecap="butt"/>
<line x1="954.5" y1="279.66" x2="946.9" y2="279.66" stroke="#000" stroke-width="4.5" stroke-linecap="butt"/>
<line x1="181" y1="224.62" x2="196.6" y2="224.62" stroke="#000" stroke-width="4.5" stroke-linecap="butt"/>
<line x1="954.5" y1="224.62" x2="938.9" y2="224.62" stroke="#000" stroke-width="4.5" stroke-linecap="butt"/>
<line x1="181" y1="169.58" x2="188.6" y2="169.58" stroke="#000" stroke-width="4.5" stroke-linecap="butt"/>
<line x1="954.5" y1="169.58" x2="946.9" y2="169.58" stroke="#000" stroke-width="4.5" stroke-linecap="butt"/>
<line x1="181" y1="114.54" x2="196.6" y2="114.54" stroke="#000" stroke-width="4.5" stroke-linecap="butt"/>
<line x1="954.5" y1="114.54" x2="938.9" y2="114.54" stroke="#000" stroke-width="4.5" stroke-linecap="butt"/>
<line x1="181" y1="59.5" x2="188.6" y2="59.5" stroke="#000" stroke-width="4.5" stroke-linecap="butt"/>
<line x1="954.5" y1="59.5" x2="946.9" y2="59.5" stroke="#000" stroke-width="4.5" stroke-linecap="butt"/>
<line x1="181" y1="4.46" x2="196.6" y2="4.46" stroke="#000" stroke-width="4.5" stroke-linecap="butt"/>
<line x1="954.5" y1="4.46" x2="938.9" y2="4.46" stroke="#000" stroke-width="4.5" stroke-linecap="butt"/>
<line x1="181" y1="1075.99" x2="188.6" y2="1075.99" stroke="#000" stroke-width="4.5" stroke-linecap="butt"/>
<line x1="954.5" y1="1075.99" x2="960.9" y2="1075.99" stroke="#000" stroke-width="4.5" stroke-linecap="butt"/>
<line x1="1297.5" y1="1075.99" x2="1291.1" y2="1075.99" stroke="#000" stroke-width="4.5" stroke-linecap="butt"/>
<line x1="181" y1="1029.94" x2="196.6" y2="1029.94" stroke="#000" stroke-width="4.5" stroke-linecap="butt"/>
<line x1="954.5" y1="1029.94" x2="968.3" y2="1029.94" stroke="#000" stroke-width="4.5" stroke-linecap="butt"/>
<line x1="1297.5" y1="1029.94" x2="1283.7" y2="1029.94" stroke="#000" stroke-width="4.5" stroke-linecap="butt"/>
<line x1="181" y1="983.89" x2="188.6" y2="983.89" stroke="#000" stroke-width="4.5" stroke-linecap="butt"/>
<line x1="954.5" y1="983.89" x2="960.9" y2="983.89" stroke="#000" stroke-width="4.5" stroke-linecap="butt"/>
<line x1="1297.5" y1="983.89" x2="1291.1" y2="983.89" stroke="#000" stroke-width="4.5" stroke-linecap="butt"/>
<line x1="181" y1="937.84" x2="188.6" y2="937.84" stroke="#000" stroke-width="4.5" stroke-linecap="butt"/>
<line x1="954.5" y1="937.84" x2="960.9" y2="937.84" stroke="#000" stroke-width="4.5" stroke-linecap="butt"/>
<line x1="1297.5" y1="937.84" x2="1291.1" y2="937.84" stroke="#000" stroke-width="4.5" stroke-linecap="butt"/>
<line x1="181" y1="891.79" x2="188.6" y2="891.79" stroke="#000" stroke-width="4.5" stroke-linecap="butt"/>
<line x1="954.5" y1="891.79" x2="960.9" y2="891.79" stroke="#000" stroke-width="4.5" stroke-linecap="butt"/>
<line x1="1297.5" y1="891.79" x2="1291.1" y2="891.79" stroke="#000" stroke-width="4.5" stroke-linecap="butt"/>
<line x1="181" y1="845.74" x2="196.6" y2="845.74" stroke="#000" stroke-width="4.5" stroke-linecap="butt"/>
<line x1="954.5" y1="845.74" x2="968.3" y2="845.74" stroke="#000" stroke-width="4.5" stroke-linecap="butt"/>
<line x1="1297.5" y1="845.74" x2="1283.7" y2="845.74" stroke="#000" stroke-width="4.5" stroke-linecap="butt"/>
<line x1="181" y1="799.69" x2="188.6" y2="799.69" stroke="#000" stroke-width="4.5" stroke-linecap="butt"/>
<line x1="954.5" y1="799.69" x2="960.9" y2="799.69" stroke="#000" stroke-width="4.5" stroke-linecap="butt"/>
<line x1="1297.5" y1="799.69" x2="1291.1" y2="799.69" stroke="#000" stroke-width="4.5" stroke-linecap="butt"/>
<line x1="181" y1="753.64" x2="188.6" y2="753.64" stroke="#000" stroke-width="4.5" stroke-linecap="butt"/>
<line x1="954.5" y1="753.64" x2="960.9" y2="753.64" stroke="#000" stroke-width="4.5" stroke-linecap="butt"/>
<line x1="1297.5" y1="753.64" x2="1291.1" y2="753.64" stroke="#000" stroke-width="4.5" stroke-linecap="butt"/>
<line x1="181" y1="707.59" x2="188.6" y2="707.59" stroke="#000" stroke-width="4.5" stroke-linecap="butt"/>
<line x1="954.5" y1="707.59" x2="960.9" y2="707.59" stroke="#000" stroke-width="4.5" stroke-linecap="butt"/>
<line x1="1297.5" y1="707.59" x2="1291.1" y2="707.59" stroke="#000" stroke-width="4.5" stroke-linecap="butt"/>
<line x1="181" y1="661.54" x2="196.6" y2="661.54" stroke="#000" stroke-width="4.5" stroke-linecap="butt"/>
<line x1="954.5" y1="661.54" x2="968.3" y2="661.54" stroke="#000" stroke-width="4.5" stroke-linecap="butt"/>
<line x1="1297.5" y1="661.54" x2="1283.7" y2="661.54" stroke="#000" stroke-width="4.5" stroke-linecap="butt"/>
<line x1="181" y1="615.49" x2="188.6" y2="615.49" stroke="#000" stroke-width="4.5" stroke-linecap="butt"/>
<line x1="954.5" y1="615.49" x2="960.9" y2="615.49" stroke="#000" stroke-width="4.5" stroke-linecap="butt"/>
<line x1="1297.5" y1="615.49" x2="1291.1" y2="615.49" stroke="#000" stroke-width="4.5" stroke-linecap="butt"/>
<line x1="181" y1="569.44" x2="188.6" y2="569.44" stroke="#000" stroke-width="4.5" stroke-linecap="butt"/>
<line x1="954.5" y1="569.44" x2="960.9" y2="569.44" stroke="#000" stroke-width="4.5" stroke-linecap="butt"/>
<line x1="1297.5" y1="569.44" x2="1291.1" y2="569.44" stroke="#000" stroke-width="4.5" stroke-linecap="butt"/>
<line x1="181" y1="523.39" x2="188.6" y2="523.39" stroke="#000" stroke-width="4.5" stroke-linecap="butt"/>
<line x1="954.5" y1="523.39" x2="960.9" y2="523.39" stroke="#000" stroke-width="4.5" stroke-linecap="butt"/>
<line x1="1297.5" y1="523.39" x2="1291.1" y2="523.39" stroke="#000" stroke-width="4.5" stroke-linecap="butt"/>
<line x1="181" y1="477.34" x2="196.6" y2="477.34" stroke="#000" stroke-width="4.5" stroke-linecap="butt"/>
<line x1="954.5" y1="477.34" x2="968.3" y2="477.34" stroke="#000" stroke-width="4.5" stroke-linecap="butt"/>
<line x1="1297.5" y1="477.34" x2="1283.7" y2="477.34" stroke="#000" stroke-width="4.5" stroke-linecap="butt"/>
<line x1="181" y1="431.29" x2="188.6" y2="431.29" stroke="#000" stroke-width="4.5" stroke-linecap="butt"/>
<line x1="954.5" y1="431.29" x2="960.9" y2="431.29" stroke="#000" stroke-width="4.5" stroke-linecap="butt"/>
<line x1="1297.5" y1="431.29" x2="1291.1" y2="431.29" stroke="#000" stroke-width="4.5" stroke-linecap="butt"/>
<line x1="181" y1="385.24" x2="188.6" y2="385.24" stroke="#000" stroke-width="4.5" stroke-linecap="butt"/>
<line x1="954.5" y1="385.24" x2="960.9" y2="385.24" stroke="#000" stroke-width="4.5" stroke-linecap="butt"/>
<line x1="1297.5" y1="385.24" x2="1291.1" y2="385.24" stroke="#000" stroke-width="4.5" stroke-linecap="butt"/>
<line x1="974.4" y1="348.5" x2="974.4" y2="364.1" stroke="#000" stroke-width="4.5" stroke-linecap="butt"/>
<line x1="974.4" y1="1122" x2="974.4" y2="1106.4" stroke="#000" stroke-width="4.5" stroke-linecap="butt"/>
<line x1="1055.5" y1="348.5" x2="1055.5" y2="356.1" stroke="#000" stroke-width="4.5" stroke-linecap="butt"/>
<line x1="1055.5" y1="1122" x2="1055.5" y2="1114.4" stroke="#000" stroke-width="4.5" stroke-linecap="butt"/>
<line x1="1136.6" y1="348.5" x2="1136.6" y2="364.1" stroke="#000" stroke-width="4.5" stroke-linecap="butt"/>
<line x1="1136.6" y1="1122" x2="1136.6" y2="1106.4" stroke="#000" stroke-width="4.5" stroke-linecap="butt"/>
<line x1="1217.7" y1="348.5" x2="1217.7" y2="356.1" stroke="#000" stroke-width="4.5" stroke-linecap="butt"/>
<line x1="1217.7" y1="1122" x2="1217.7" y2="1114.4" stroke="#000" stroke-width="4.5" stroke-linecap="butt"/>
<line x1="1298.8" y1="348.5" x2="1298.8" y2="364.1" stroke="#000" stroke-width="4.5" stroke-linecap="butt"/>
<line x1="1298.8" y1="1122" x2="1298.8" y2="1106.4" stroke="#000" stroke-width="4.5" stroke-linecap="butt"/>
<rect x="1332.8" y="348.8" width="25.2" height="154.58" fill="#ff0000" stroke="#000" stroke-width="1.4"/>
<rect x="1332.8" y="503.38" width="25.2" height="154.58" fill="#e0ff00" stroke="#000" stroke-width="1.4"/>
<rect x="1332.8" y="657.96" width="25.2" height="154.58" fill="#00ff3c" stroke="#000" stroke-width="1.4"/>
<rect x="1332.8" y="812.54" width="25.2" height="154.58" fill="#0096ff" stroke="#000" stroke-width="1.4"/>
<rect x="1332.8" y="967.12" width="25.2" height="154.58" fill="#7a00ff" stroke="#000" stroke-width="1.4"/>
<text transform="matrix(0.9509 0 0 1 74.61 40.50)" font-family="'Liberation Sans', sans-serif" font-size="58.7">120</text>
<text transform="matrix(0.9891 0 0 1 103.13 135.40)" font-family="'Liberation Sans', sans-serif" font-size="58.7">80</text>
<text transform="matrix(0.9848 0 0 1 103.40 244.80)" font-family="'Liberation Sans', sans-serif" font-size="58.7">40</text>
<text transform="matrix(1.0382 0 0 1 133.06 348.60)" font-family="'Liberation Sans', sans-serif" font-size="58.7">0</text>
<text transform="matrix(0.9883 0 0 1 103.48 498.40)" font-family="'Liberation Sans', sans-serif" font-size="58.7">50</text>
<text transform="matrix(1.0011 0 0 1 102.68 682.10)" font-family="'Liberation Sans', sans-serif" font-size="58.7">40</text>
<text transform="matrix(0.9761 0 0 1 103.65 866.10)" font-family="'Liberation Sans', sans-serif" font-size="58.7">30</text>
<text transform="matrix(0.9913 0 0 1 102.69 1050.40)" font-family="'Liberation Sans', sans-serif" font-size="58.7">20</text>
<text transform="matrix(0.9557 0 0 1 258.18 1198.70)" font-family="'Liberation Sans', sans-serif" font-size="58.7">-1.0</text>
<text transform="matrix(0.9290 0 0 1 388.25 1198.70)" font-family="'Liberation Sans', sans-serif" font-size="58.7">-0.5</text>
<text transform="matrix(0.9216 0 0 1 529.54 1198.70)" font-family="'Liberation Sans', sans-serif" font-size="58.7">0.0</text>
<text transform="matrix(0.9233 0 0 1 658.53 1198.70)" font-family="'Liberation Sans', sans-serif" font-size="58.7">0.5</text>
<text transform="matrix(0.9068 0 0 1 790.71 1198.70)" font-family="'Liberation Sans', sans-serif" font-size="58.7">1.0</text>
<text transform="matrix(1.0168 0 0 1 958.41 1198.70)" font-family="'Liberation Sans', sans-serif" font-size="58.7">0</text>
<text transform="matrix(0.9735 0 0 1 1105.41 1198.70)" font-family="'Liberation Sans', sans-serif" font-size="58.7">40</text>
<text transform="matrix(0.9841 0 0 1 1266.04 1198.70)" font-family="'Liberation Sans', sans-serif" font-size="58.7">80</text>
<text transform="matrix(0.9074 0 0 1 1374.77 384.40)" font-family="'Liberation Sans', sans-serif" font-size="58.7">5</text>
<text transform="matrix(1.0154 0 0 1 1373.46 523.60)" font-family="'Liberation Sans', sans-serif" font-size="58.7">4</text>
<text transform="matrix(0.9325 0 0 1 1374.45 678.40)" font-family="'Liberation Sans', sans-serif" font-size="58.7">3</text>
<text transform="matrix(0.9735 0 0 1 1373.64 833.00)" font-family="'Liberation Sans', sans-serif" font-size="58.7">2</text>
<text transform="matrix(0.6263 0 0 1 1377.64 988.00)" font-family="'Liberation Sans', sans-serif" font-size="58.7">1</text>
<text transform="matrix(1.0025 0 0 1 1373.65 1121.60)" font-family="'Liberation Sans', sans-serif" font-size="58.7">0</text>
<text transform="matrix(0.4765 0 0 0.4558 201.12 70.44)" font-family="'Liberation Sans', sans-serif" font-size="100.0">(b)</text>
<text transform="matrix(0.4355 0 0 0.4483 202.98 431.40)" font-family="'Liberation Sans', sans-serif" font-size="100.0">(a)</text>
<text transform="matrix(0.4404 0 0 0.4504 1218.45 431.35)" font-family="'Liberation Sans', sans-serif" font-size="100.0">(c)</text>
<text transform="matrix(0.9738 0 0 1 344.30 1276.80)" font-family="'Liberation Sans', sans-serif" font-size="61">Photon</text>
<text transform="matrix(0.9595 0 0 1 545.19 1276.80)" font-family="'Liberation Sans', sans-serif" font-size="61">Index</text>
<text transform="matrix(0.8119 0 0 1 701.90 1276.80)" font-family="'Liberation Sans', sans-serif" font-size="61">(</text>
<text transform="matrix(0.8197 0 0 1 733.88 1276.80)" font-family="'Liberation Sans', sans-serif" font-size="61">&#915;</text>
<text transform="matrix(0.7557 0 0 1 771.35 1276.80)" font-family="'Liberation Sans', sans-serif" font-size="61">)</text>
<text transform="matrix(0.9786 0 0 1 1013.58 1276.90)" font-family="'Liberation Sans', sans-serif" font-size="61">Number</text>
<text transform="matrix(0 -0.9748 1 0 43.90 306.41)" font-family="'Liberation Sans', sans-serif" font-size="61">Number</text>
<text transform="matrix(0 -0.7162 1 0 44.10 872.70)" font-family="'Liberation Sans', sans-serif" font-size="61">E</text>
<text transform="matrix(0 -0.9311 1 0 72.50 835.09)" font-family="'Liberation Sans', sans-serif" font-size="37.8">peak</text>
<text transform="matrix(0 -0.4876 0.5340 0 39.92 744.05)" font-family="'Liberation Sans', sans-serif" font-size="100.0">(</text>
<text transform="matrix(0 -0.8783 1 0 44.10 725.62)" font-family="'Liberation Sans', sans-serif" font-size="61">keV</text>
<text transform="matrix(0 -0.4990 0.5340 0 39.92 632.77)" font-family="'Liberation Sans', sans-serif" font-size="100.0">)</text>
<text transform="matrix(0 -0.9610 1 0 1486.80 1055.57)" font-family="'Liberation Sans', sans-serif" font-size="58.9">Flux</text>
<text transform="matrix(0 -0.6171 0.5437 0 1483.72 935.76)" font-family="'Liberation Sans', sans-serif" font-size="100.0">(</text>
<text transform="matrix(0 -0.9163 1 0 1486.80 915.17)" font-family="'Liberation Sans', sans-serif" font-size="58.9">x 10</text>
<text transform="matrix(0 -1.0576 1 0 1459.60 791.87)" font-family="'Liberation Sans', sans-serif" font-size="35.3">&#8722;5</text>
<text transform="matrix(0 -0.9804 1 0 1486.70 738.25)" font-family="'Liberation Sans', sans-serif" font-size="58.9">erg cm</text>
<text transform="matrix(0 -1.0514 1 0 1459.90 556.96)" font-family="'Liberation Sans', sans-serif" font-size="35.3">&#8722;2</text>
<text transform="matrix(0 -0.7723 1 0 1487.30 502.15)" font-family="'Liberation Sans', sans-serif" font-size="58.9">s</text>
<text transform="matrix(0 -0.9130 1 0 1459.90 477.01)" font-family="'Liberation Sans', sans-serif" font-size="35.3">&#8722;1</text>
<text transform="matrix(0 -0.4724 0.5416 0 1483.56 435.25)" font-family="'Liberation Sans', sans-serif" font-size="100.0">)</text>
</svg>
</body></html>
